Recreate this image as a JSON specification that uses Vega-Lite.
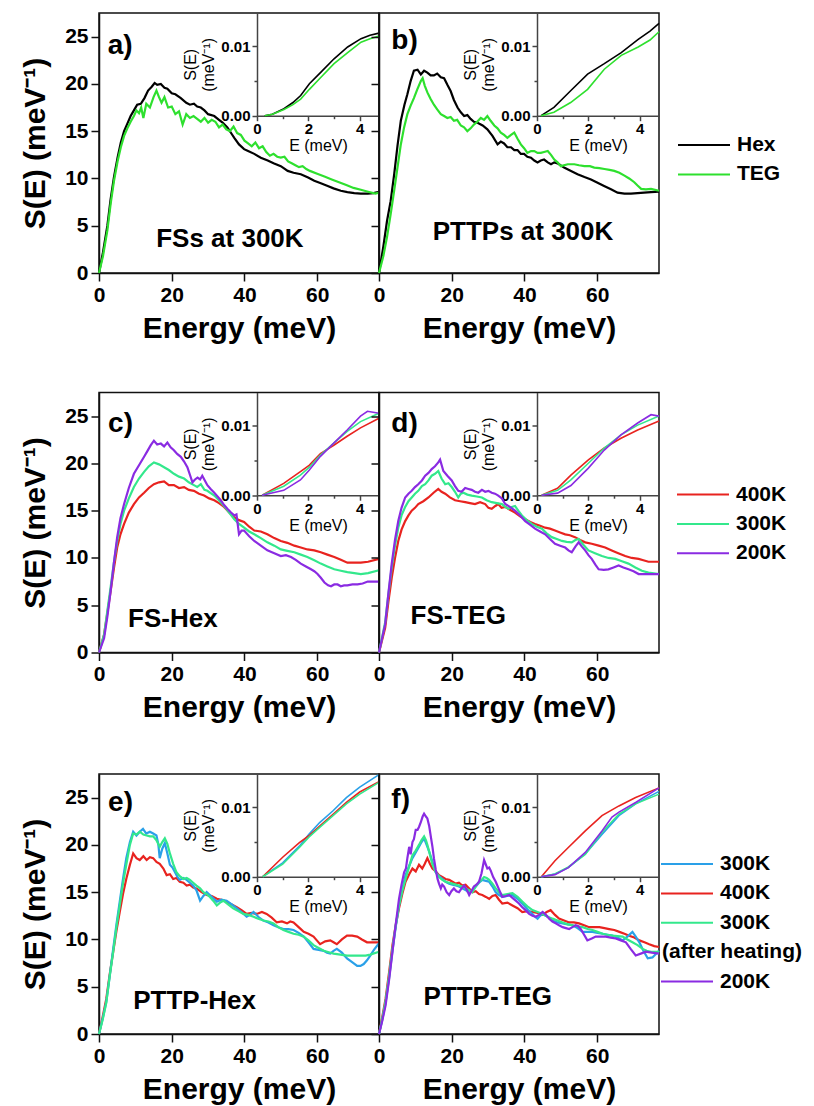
{
"$schema": "https://vega.github.io/schema/vega-lite/v6.json",
"padding": {"left": 19, "top": 12, "right": 0, "bottom": 0},
"config": {
  "font": "Liberation Sans",
  "view": {"stroke": "#111", "strokeWidth": 1.5},
  "axis": {"labelFont": "Liberation Sans", "labelFontWeight": "bold", "labelFontSize": 21, "labelColor": "#000", "titleFont": "Liberation Sans", "titleFontSize": 30, "titleFontWeight": "bold", "titleColor": "#000", "domainColor": "#111", "domainWidth": 1.5, "tickColor": "#111", "tickWidth": 1.5, "grid": false, "labelPadding": 3, "labelOverlap": false, "labelFlush": false},
  "legend": {"labelFont": "Liberation Sans", "labelFontSize": 21, "labelFontWeight": "bold", "labelColor": "#000", "symbolType": "M-2,0H2", "symbolSize": 676, "symbolStrokeWidth": 2, "labelOffset": 19, "rowPadding": 5.4, "padding": 0, "titlePadding": 0},
  "text": {"font": "Liberation Sans", "fontWeight": "bold", "color": "#000"}
},
"datasets": {
"main": [
{"p":"a","s":"Hex","x":0,"y":0},{"p":"a","s":"Hex","x":1.1,"y":2.2},{"p":"a","s":"Hex","x":2.3,"y":5},{"p":"a","s":"Hex","x":3.2,"y":7.8},{"p":"a","s":"Hex","x":4.1,"y":10.1},{"p":"a","s":"Hex","x":5.1,"y":12.2},{"p":"a","s":"Hex","x":6,"y":13.8},{"p":"a","s":"Hex","x":6.9,"y":15},{"p":"a","s":"Hex","x":7.8,"y":15.8},{"p":"a","s":"Hex","x":8.7,"y":16.6},{"p":"a","s":"Hex","x":9.6,"y":17.2},{"p":"a","s":"Hex","x":10.5,"y":17.8},{"p":"a","s":"Hex","x":11.5,"y":17.9},{"p":"a","s":"Hex","x":12.5,"y":18.5},{"p":"a","s":"Hex","x":13.5,"y":19.3},{"p":"a","s":"Hex","x":14.5,"y":19.7},{"p":"a","s":"Hex","x":15.3,"y":20.1},{"p":"a","s":"Hex","x":16,"y":19.9},{"p":"a","s":"Hex","x":17,"y":20},{"p":"a","s":"Hex","x":18,"y":19.6},{"p":"a","s":"Hex","x":18.8,"y":19.5},{"p":"a","s":"Hex","x":20,"y":19},{"p":"a","s":"Hex","x":21,"y":18.9},{"p":"a","s":"Hex","x":22.5,"y":18.5},{"p":"a","s":"Hex","x":24,"y":18},{"p":"a","s":"Hex","x":25,"y":17.8},{"p":"a","s":"Hex","x":26.1,"y":17.9},{"p":"a","s":"Hex","x":27,"y":17.6},{"p":"a","s":"Hex","x":28,"y":17.5},{"p":"a","s":"Hex","x":29,"y":17.2},{"p":"a","s":"Hex","x":30,"y":16.8},{"p":"a","s":"Hex","x":31.7,"y":16.6},{"p":"a","s":"Hex","x":33,"y":16.2},{"p":"a","s":"Hex","x":34,"y":15.9},{"p":"a","s":"Hex","x":35.3,"y":15.4},{"p":"a","s":"Hex","x":36.5,"y":14.7},{"p":"a","s":"Hex","x":37.2,"y":14.3},{"p":"a","s":"Hex","x":38.5,"y":13.6},{"p":"a","s":"Hex","x":39.9,"y":13.1},{"p":"a","s":"Hex","x":41,"y":12.9},{"p":"a","s":"Hex","x":42.7,"y":12.6},{"p":"a","s":"Hex","x":44.5,"y":12.2},{"p":"a","s":"Hex","x":46.4,"y":11.9},{"p":"a","s":"Hex","x":48,"y":11.6},{"p":"a","s":"Hex","x":50,"y":11.3},{"p":"a","s":"Hex","x":51.9,"y":10.8},{"p":"a","s":"Hex","x":53.5,"y":10.6},{"p":"a","s":"Hex","x":55.5,"y":10.45},{"p":"a","s":"Hex","x":57.5,"y":10.1},{"p":"a","s":"Hex","x":59.2,"y":9.75},{"p":"a","s":"Hex","x":61,"y":9.5},{"p":"a","s":"Hex","x":62.9,"y":9.2},{"p":"a","s":"Hex","x":64.5,"y":8.95},{"p":"a","s":"Hex","x":66.5,"y":8.7},{"p":"a","s":"Hex","x":68.3,"y":8.55},{"p":"a","s":"Hex","x":70.2,"y":8.45},{"p":"a","s":"Hex","x":72,"y":8.4},{"p":"a","s":"Hex","x":73.9,"y":8.4},{"p":"a","s":"Hex","x":75.5,"y":8.45},{"p":"a","s":"Hex","x":77,"y":8.6},
{"p":"a","s":"TEG","x":0,"y":0},{"p":"a","s":"TEG","x":1.1,"y":1.8},{"p":"a","s":"TEG","x":2.3,"y":4.5},{"p":"a","s":"TEG","x":3.2,"y":7.3},{"p":"a","s":"TEG","x":4.1,"y":9.7},{"p":"a","s":"TEG","x":5.1,"y":11.8},{"p":"a","s":"TEG","x":6,"y":13.3},{"p":"a","s":"TEG","x":6.9,"y":14.5},{"p":"a","s":"TEG","x":7.8,"y":15.3},{"p":"a","s":"TEG","x":8.7,"y":16},{"p":"a","s":"TEG","x":9.6,"y":16.6},{"p":"a","s":"TEG","x":10.3,"y":17.2},{"p":"a","s":"TEG","x":11,"y":16.9},{"p":"a","s":"TEG","x":11.6,"y":17.5},{"p":"a","s":"TEG","x":12.2,"y":16.4},{"p":"a","s":"TEG","x":13,"y":17.9},{"p":"a","s":"TEG","x":14,"y":17.5},{"p":"a","s":"TEG","x":15,"y":18.6},{"p":"a","s":"TEG","x":15.8,"y":19.3},{"p":"a","s":"TEG","x":16.5,"y":18.6},{"p":"a","s":"TEG","x":17.2,"y":18},{"p":"a","s":"TEG","x":18,"y":18.6},{"p":"a","s":"TEG","x":19,"y":17.5},{"p":"a","s":"TEG","x":20,"y":17.6},{"p":"a","s":"TEG","x":21,"y":16.8},{"p":"a","s":"TEG","x":22,"y":17.1},{"p":"a","s":"TEG","x":23,"y":15.7},{"p":"a","s":"TEG","x":24,"y":16.8},{"p":"a","s":"TEG","x":25,"y":16.4},{"p":"a","s":"TEG","x":26,"y":16.6},{"p":"a","s":"TEG","x":27,"y":16.3},{"p":"a","s":"TEG","x":28,"y":16},{"p":"a","s":"TEG","x":29,"y":16.4},{"p":"a","s":"TEG","x":30,"y":15.9},{"p":"a","s":"TEG","x":31,"y":16.2},{"p":"a","s":"TEG","x":32,"y":16},{"p":"a","s":"TEG","x":33,"y":15.4},{"p":"a","s":"TEG","x":34,"y":15.7},{"p":"a","s":"TEG","x":35,"y":15.2},{"p":"a","s":"TEG","x":36,"y":15},{"p":"a","s":"TEG","x":37,"y":15.5},{"p":"a","s":"TEG","x":38,"y":14.8},{"p":"a","s":"TEG","x":39,"y":14.6},{"p":"a","s":"TEG","x":40,"y":14},{"p":"a","s":"TEG","x":41,"y":13.7},{"p":"a","s":"TEG","x":42,"y":13.4},{"p":"a","s":"TEG","x":43,"y":13.8},{"p":"a","s":"TEG","x":44,"y":13.2},{"p":"a","s":"TEG","x":45,"y":13.4},{"p":"a","s":"TEG","x":46,"y":12.8},{"p":"a","s":"TEG","x":47,"y":12.4},{"p":"a","s":"TEG","x":48,"y":12.6},{"p":"a","s":"TEG","x":49,"y":12.3},{"p":"a","s":"TEG","x":50,"y":12.2},{"p":"a","s":"TEG","x":51,"y":12.3},{"p":"a","s":"TEG","x":52,"y":11.8},{"p":"a","s":"TEG","x":53,"y":11.6},{"p":"a","s":"TEG","x":54,"y":11.4},{"p":"a","s":"TEG","x":55,"y":11.2},{"p":"a","s":"TEG","x":56,"y":11.3},{"p":"a","s":"TEG","x":57,"y":11},{"p":"a","s":"TEG","x":58,"y":10.8},{"p":"a","s":"TEG","x":60,"y":10.5},{"p":"a","s":"TEG","x":62,"y":10.2},{"p":"a","s":"TEG","x":64,"y":9.9},{"p":"a","s":"TEG","x":66,"y":9.6},{"p":"a","s":"TEG","x":68,"y":9.3},{"p":"a","s":"TEG","x":70,"y":9},{"p":"a","s":"TEG","x":72,"y":8.8},{"p":"a","s":"TEG","x":74,"y":8.6},{"p":"a","s":"TEG","x":76,"y":8.4},{"p":"a","s":"TEG","x":77,"y":8.5},
{"p":"b","s":"Hex","x":0,"y":0},{"p":"b","s":"Hex","x":1.2,"y":2.8},{"p":"b","s":"Hex","x":2.2,"y":5.5},{"p":"b","s":"Hex","x":3.2,"y":7.6},{"p":"b","s":"Hex","x":4.2,"y":10.5},{"p":"b","s":"Hex","x":5.1,"y":13.5},{"p":"b","s":"Hex","x":6,"y":16.1},{"p":"b","s":"Hex","x":7,"y":17.8},{"p":"b","s":"Hex","x":7.8,"y":18.9},{"p":"b","s":"Hex","x":8.7,"y":20.3},{"p":"b","s":"Hex","x":9.6,"y":21.4},{"p":"b","s":"Hex","x":10.6,"y":21.5},{"p":"b","s":"Hex","x":11.5,"y":21},{"p":"b","s":"Hex","x":12.4,"y":21.4},{"p":"b","s":"Hex","x":13.3,"y":21.2},{"p":"b","s":"Hex","x":14.2,"y":20.9},{"p":"b","s":"Hex","x":15.1,"y":20.9},{"p":"b","s":"Hex","x":16,"y":21.1},{"p":"b","s":"Hex","x":17,"y":20.7},{"p":"b","s":"Hex","x":17.9,"y":20.6},{"p":"b","s":"Hex","x":18.8,"y":19.9},{"p":"b","s":"Hex","x":19.7,"y":19.25},{"p":"b","s":"Hex","x":20.6,"y":18.3},{"p":"b","s":"Hex","x":21.6,"y":17.5},{"p":"b","s":"Hex","x":22.5,"y":17},{"p":"b","s":"Hex","x":23.4,"y":16.6},{"p":"b","s":"Hex","x":24.3,"y":16.7},{"p":"b","s":"Hex","x":25.2,"y":16.3},{"p":"b","s":"Hex","x":26.1,"y":16},{"p":"b","s":"Hex","x":27.1,"y":15.9},{"p":"b","s":"Hex","x":28.5,"y":15.6},{"p":"b","s":"Hex","x":29.8,"y":15.2},{"p":"b","s":"Hex","x":31.2,"y":14.5},{"p":"b","s":"Hex","x":32.6,"y":13.6},{"p":"b","s":"Hex","x":33.5,"y":13.9},{"p":"b","s":"Hex","x":34.4,"y":13.7},{"p":"b","s":"Hex","x":35.3,"y":13.3},{"p":"b","s":"Hex","x":36.3,"y":13.3},{"p":"b","s":"Hex","x":37.2,"y":13},{"p":"b","s":"Hex","x":38.1,"y":13},{"p":"b","s":"Hex","x":39,"y":12.6},{"p":"b","s":"Hex","x":39.9,"y":12.6},{"p":"b","s":"Hex","x":40.8,"y":12.3},{"p":"b","s":"Hex","x":41.8,"y":12.2},{"p":"b","s":"Hex","x":42.7,"y":11.9},{"p":"b","s":"Hex","x":43.6,"y":11.7},{"p":"b","s":"Hex","x":44.5,"y":11.9},{"p":"b","s":"Hex","x":45.4,"y":12},{"p":"b","s":"Hex","x":46.4,"y":11.7},{"p":"b","s":"Hex","x":47.3,"y":11.5},{"p":"b","s":"Hex","x":48.2,"y":11.7},{"p":"b","s":"Hex","x":49.1,"y":11.6},{"p":"b","s":"Hex","x":50.9,"y":11.15},{"p":"b","s":"Hex","x":52.8,"y":10.8},{"p":"b","s":"Hex","x":54.6,"y":10.45},{"p":"b","s":"Hex","x":56.5,"y":10.15},{"p":"b","s":"Hex","x":58.3,"y":9.9},{"p":"b","s":"Hex","x":60.1,"y":9.55},{"p":"b","s":"Hex","x":61.9,"y":9.2},{"p":"b","s":"Hex","x":63.8,"y":8.85},{"p":"b","s":"Hex","x":65.6,"y":8.5},{"p":"b","s":"Hex","x":67.5,"y":8.4},{"p":"b","s":"Hex","x":69.3,"y":8.4},{"p":"b","s":"Hex","x":71.1,"y":8.45},{"p":"b","s":"Hex","x":72.9,"y":8.5},{"p":"b","s":"Hex","x":74.8,"y":8.55},{"p":"b","s":"Hex","x":77,"y":8.6},
{"p":"b","s":"TEG","x":0,"y":0},{"p":"b","s":"TEG","x":1.2,"y":1.8},{"p":"b","s":"TEG","x":2.2,"y":3.8},{"p":"b","s":"TEG","x":3.2,"y":6.2},{"p":"b","s":"TEG","x":4.2,"y":8.8},{"p":"b","s":"TEG","x":5.1,"y":11.2},{"p":"b","s":"TEG","x":6,"y":13.6},{"p":"b","s":"TEG","x":6.9,"y":15.4},{"p":"b","s":"TEG","x":7.8,"y":16.8},{"p":"b","s":"TEG","x":8.7,"y":17.7},{"p":"b","s":"TEG","x":9.6,"y":18.5},{"p":"b","s":"TEG","x":10.5,"y":19.4},{"p":"b","s":"TEG","x":11.5,"y":20.3},{"p":"b","s":"TEG","x":12,"y":20.6},{"p":"b","s":"TEG","x":12.6,"y":19.8},{"p":"b","s":"TEG","x":13.3,"y":19.1},{"p":"b","s":"TEG","x":14.2,"y":18.4},{"p":"b","s":"TEG","x":15.1,"y":17.8},{"p":"b","s":"TEG","x":16,"y":17.3},{"p":"b","s":"TEG","x":17,"y":16.8},{"p":"b","s":"TEG","x":17.9,"y":16.6},{"p":"b","s":"TEG","x":18.8,"y":16.4},{"p":"b","s":"TEG","x":19.7,"y":16.5},{"p":"b","s":"TEG","x":20.6,"y":16.1},{"p":"b","s":"TEG","x":21.5,"y":16.2},{"p":"b","s":"TEG","x":22.5,"y":15.6},{"p":"b","s":"TEG","x":23.4,"y":15.4},{"p":"b","s":"TEG","x":24.3,"y":15},{"p":"b","s":"TEG","x":25.2,"y":15.3},{"p":"b","s":"TEG","x":26.1,"y":15.7},{"p":"b","s":"TEG","x":27,"y":16},{"p":"b","s":"TEG","x":28,"y":16.4},{"p":"b","s":"TEG","x":28.9,"y":16.2},{"p":"b","s":"TEG","x":29.8,"y":16.6},{"p":"b","s":"TEG","x":30.7,"y":16.1},{"p":"b","s":"TEG","x":31.7,"y":15.6},{"p":"b","s":"TEG","x":32.6,"y":15.3},{"p":"b","s":"TEG","x":33.5,"y":14.85},{"p":"b","s":"TEG","x":34.4,"y":14.6},{"p":"b","s":"TEG","x":35.3,"y":14.3},{"p":"b","s":"TEG","x":36.3,"y":14.6},{"p":"b","s":"TEG","x":37.2,"y":14.85},{"p":"b","s":"TEG","x":38.1,"y":14.2},{"p":"b","s":"TEG","x":39,"y":13.6},{"p":"b","s":"TEG","x":39.9,"y":13.2},{"p":"b","s":"TEG","x":40.8,"y":12.7},{"p":"b","s":"TEG","x":41.8,"y":12.9},{"p":"b","s":"TEG","x":42.7,"y":12.9},{"p":"b","s":"TEG","x":43.6,"y":12.7},{"p":"b","s":"TEG","x":44.5,"y":12.7},{"p":"b","s":"TEG","x":45.4,"y":12.8},{"p":"b","s":"TEG","x":46.4,"y":12.9},{"p":"b","s":"TEG","x":47.3,"y":12.5},{"p":"b","s":"TEG","x":48.2,"y":12},{"p":"b","s":"TEG","x":49.1,"y":11.7},{"p":"b","s":"TEG","x":50,"y":11.3},{"p":"b","s":"TEG","x":51.9,"y":11.5},{"p":"b","s":"TEG","x":53.7,"y":11.5},{"p":"b","s":"TEG","x":55,"y":11.4},{"p":"b","s":"TEG","x":56.5,"y":11.3},{"p":"b","s":"TEG","x":58,"y":11.3},{"p":"b","s":"TEG","x":59.2,"y":11.15},{"p":"b","s":"TEG","x":60.6,"y":11.1},{"p":"b","s":"TEG","x":62,"y":11},{"p":"b","s":"TEG","x":63.4,"y":10.9},{"p":"b","s":"TEG","x":64.7,"y":10.8},{"p":"b","s":"TEG","x":66.1,"y":10.6},{"p":"b","s":"TEG","x":67.5,"y":10.3},{"p":"b","s":"TEG","x":68.8,"y":10},{"p":"b","s":"TEG","x":70.2,"y":9.6},{"p":"b","s":"TEG","x":71.1,"y":9.25},{"p":"b","s":"TEG","x":72.1,"y":8.9},{"p":"b","s":"TEG","x":73.4,"y":8.85},{"p":"b","s":"TEG","x":74.8,"y":8.9},{"p":"b","s":"TEG","x":77,"y":8.7},
{"p":"c","s":"400K","x":0,"y":0},{"p":"c","s":"400K","x":1.4,"y":1.9},{"p":"c","s":"400K","x":2.3,"y":4.2},{"p":"c","s":"400K","x":3.2,"y":6.5},{"p":"c","s":"400K","x":4.1,"y":8.9},{"p":"c","s":"400K","x":5,"y":11.1},{"p":"c","s":"400K","x":5.9,"y":12.5},{"p":"c","s":"400K","x":6.9,"y":13.6},{"p":"c","s":"400K","x":8.2,"y":14.8},{"p":"c","s":"400K","x":9.6,"y":15.7},{"p":"c","s":"400K","x":11,"y":16.4},{"p":"c","s":"400K","x":12.4,"y":16.9},{"p":"c","s":"400K","x":13.7,"y":17.4},{"p":"c","s":"400K","x":15.1,"y":17.8},{"p":"c","s":"400K","x":16.5,"y":18},{"p":"c","s":"400K","x":17.9,"y":18.1},{"p":"c","s":"400K","x":19.2,"y":17.7},{"p":"c","s":"400K","x":20.6,"y":17.7},{"p":"c","s":"400K","x":22,"y":17.4},{"p":"c","s":"400K","x":23.4,"y":17.5},{"p":"c","s":"400K","x":24.7,"y":17.2},{"p":"c","s":"400K","x":26.1,"y":17.1},{"p":"c","s":"400K","x":27.5,"y":16.8},{"p":"c","s":"400K","x":28.9,"y":16.6},{"p":"c","s":"400K","x":30.3,"y":16.3},{"p":"c","s":"400K","x":31.7,"y":16.1},{"p":"c","s":"400K","x":33,"y":15.8},{"p":"c","s":"400K","x":34.4,"y":15.4},{"p":"c","s":"400K","x":35.8,"y":14.8},{"p":"c","s":"400K","x":37.2,"y":14.3},{"p":"c","s":"400K","x":38.5,"y":14},{"p":"c","s":"400K","x":39.9,"y":13.8},{"p":"c","s":"400K","x":41.3,"y":13.3},{"p":"c","s":"400K","x":42.7,"y":12.9},{"p":"c","s":"400K","x":44.5,"y":12.8},{"p":"c","s":"400K","x":46.3,"y":12.5},{"p":"c","s":"400K","x":48.2,"y":12.1},{"p":"c","s":"400K","x":50,"y":11.8},{"p":"c","s":"400K","x":51.8,"y":11.6},{"p":"c","s":"400K","x":53.7,"y":11.3},{"p":"c","s":"400K","x":55.5,"y":11.1},{"p":"c","s":"400K","x":57.3,"y":10.9},{"p":"c","s":"400K","x":59.2,"y":10.8},{"p":"c","s":"400K","x":61,"y":10.6},{"p":"c","s":"400K","x":62.8,"y":10.35},{"p":"c","s":"400K","x":64.7,"y":10.1},{"p":"c","s":"400K","x":66.5,"y":9.8},{"p":"c","s":"400K","x":68.3,"y":9.5},{"p":"c","s":"400K","x":70.2,"y":9.5},{"p":"c","s":"400K","x":72,"y":9.5},{"p":"c","s":"400K","x":74,"y":9.6},{"p":"c","s":"400K","x":77,"y":9.9},
{"p":"c","s":"300K","x":0,"y":0},{"p":"c","s":"300K","x":1.4,"y":1.9},{"p":"c","s":"300K","x":2.3,"y":4.4},{"p":"c","s":"300K","x":3.2,"y":6.9},{"p":"c","s":"300K","x":4.1,"y":9.5},{"p":"c","s":"300K","x":5,"y":11.8},{"p":"c","s":"300K","x":5.9,"y":13.6},{"p":"c","s":"300K","x":6.9,"y":15},{"p":"c","s":"300K","x":8.2,"y":16.3},{"p":"c","s":"300K","x":9.6,"y":17.5},{"p":"c","s":"300K","x":11,"y":18.4},{"p":"c","s":"300K","x":12.4,"y":19.1},{"p":"c","s":"300K","x":13.7,"y":19.7},{"p":"c","s":"300K","x":15.1,"y":20.1},{"p":"c","s":"300K","x":16.5,"y":19.9},{"p":"c","s":"300K","x":17.9,"y":19.6},{"p":"c","s":"300K","x":19.2,"y":19.3},{"p":"c","s":"300K","x":20.6,"y":18.9},{"p":"c","s":"300K","x":22,"y":18.6},{"p":"c","s":"300K","x":23.4,"y":18.4},{"p":"c","s":"300K","x":24.7,"y":18},{"p":"c","s":"300K","x":26.1,"y":17.7},{"p":"c","s":"300K","x":27,"y":17.5},{"p":"c","s":"300K","x":28,"y":17.8},{"p":"c","s":"300K","x":29,"y":17.2},{"p":"c","s":"300K","x":29.8,"y":17.1},{"p":"c","s":"300K","x":31.7,"y":16.6},{"p":"c","s":"300K","x":33,"y":16.1},{"p":"c","s":"300K","x":34.4,"y":15.5},{"p":"c","s":"300K","x":35.8,"y":14.8},{"p":"c","s":"300K","x":37.2,"y":14.1},{"p":"c","s":"300K","x":38.5,"y":13.6},{"p":"c","s":"300K","x":39.9,"y":13.2},{"p":"c","s":"300K","x":41.3,"y":12.8},{"p":"c","s":"300K","x":42.7,"y":12.5},{"p":"c","s":"300K","x":44.5,"y":12.1},{"p":"c","s":"300K","x":46.3,"y":11.65},{"p":"c","s":"300K","x":48.2,"y":11.3},{"p":"c","s":"300K","x":50,"y":10.9},{"p":"c","s":"300K","x":51.8,"y":10.75},{"p":"c","s":"300K","x":53.7,"y":10.6},{"p":"c","s":"300K","x":55.5,"y":10.35},{"p":"c","s":"300K","x":57.3,"y":10.1},{"p":"c","s":"300K","x":59.2,"y":9.75},{"p":"c","s":"300K","x":61,"y":9.4},{"p":"c","s":"300K","x":62.8,"y":9.1},{"p":"c","s":"300K","x":64.7,"y":8.8},{"p":"c","s":"300K","x":66.5,"y":8.65},{"p":"c","s":"300K","x":68.3,"y":8.5},{"p":"c","s":"300K","x":70.2,"y":8.4},{"p":"c","s":"300K","x":72,"y":8.3},{"p":"c","s":"300K","x":74,"y":8.4},{"p":"c","s":"300K","x":77,"y":8.7},
{"p":"c","s":"200K","x":0,"y":0},{"p":"c","s":"200K","x":1.4,"y":1.5},{"p":"c","s":"200K","x":2.3,"y":3.8},{"p":"c","s":"200K","x":3.2,"y":6.5},{"p":"c","s":"200K","x":4.1,"y":9.5},{"p":"c","s":"200K","x":5,"y":12.2},{"p":"c","s":"200K","x":5.9,"y":14.2},{"p":"c","s":"200K","x":6.9,"y":15.7},{"p":"c","s":"200K","x":8.2,"y":17.4},{"p":"c","s":"200K","x":9.6,"y":18.9},{"p":"c","s":"200K","x":11,"y":19.8},{"p":"c","s":"200K","x":12.4,"y":20.7},{"p":"c","s":"200K","x":13.3,"y":21.3},{"p":"c","s":"200K","x":14.2,"y":21.9},{"p":"c","s":"200K","x":15.1,"y":22.4},{"p":"c","s":"200K","x":16,"y":22},{"p":"c","s":"200K","x":17,"y":22.1},{"p":"c","s":"200K","x":17.9,"y":21.8},{"p":"c","s":"200K","x":18.8,"y":22.2},{"p":"c","s":"200K","x":19.7,"y":21.7},{"p":"c","s":"200K","x":20.6,"y":21.4},{"p":"c","s":"200K","x":21.5,"y":21},{"p":"c","s":"200K","x":22.5,"y":20.7},{"p":"c","s":"200K","x":23.4,"y":20.2},{"p":"c","s":"200K","x":24.3,"y":19.6},{"p":"c","s":"200K","x":25,"y":18.8},{"p":"c","s":"200K","x":25.7,"y":18},{"p":"c","s":"200K","x":26.4,"y":18.3},{"p":"c","s":"200K","x":27.1,"y":18.5},{"p":"c","s":"200K","x":27.8,"y":18.3},{"p":"c","s":"200K","x":28.4,"y":18.7},{"p":"c","s":"200K","x":29.1,"y":18.2},{"p":"c","s":"200K","x":29.8,"y":17.7},{"p":"c","s":"200K","x":30.7,"y":17.3},{"p":"c","s":"200K","x":31.7,"y":16.9},{"p":"c","s":"200K","x":32.6,"y":16.5},{"p":"c","s":"200K","x":33.5,"y":16.1},{"p":"c","s":"200K","x":34.4,"y":15.6},{"p":"c","s":"200K","x":35.3,"y":15.2},{"p":"c","s":"200K","x":36.3,"y":14.8},{"p":"c","s":"200K","x":37.2,"y":14.5},{"p":"c","s":"200K","x":37.8,"y":14.6},{"p":"c","s":"200K","x":38.5,"y":12.5},{"p":"c","s":"200K","x":39.2,"y":12.9},{"p":"c","s":"200K","x":39.9,"y":12.9},{"p":"c","s":"200K","x":41.3,"y":12.3},{"p":"c","s":"200K","x":42.7,"y":11.8},{"p":"c","s":"200K","x":44.5,"y":11.3},{"p":"c","s":"200K","x":46.3,"y":10.8},{"p":"c","s":"200K","x":48.2,"y":10.5},{"p":"c","s":"200K","x":50,"y":10.2},{"p":"c","s":"200K","x":51.4,"y":10.3},{"p":"c","s":"200K","x":52.8,"y":10.1},{"p":"c","s":"200K","x":54.1,"y":9.8},{"p":"c","s":"200K","x":55.5,"y":9.4},{"p":"c","s":"200K","x":56.9,"y":9.1},{"p":"c","s":"200K","x":58.3,"y":8.8},{"p":"c","s":"200K","x":59.2,"y":8.6},{"p":"c","s":"200K","x":60.1,"y":8.3},{"p":"c","s":"200K","x":61,"y":7.9},{"p":"c","s":"200K","x":62,"y":7.4},{"p":"c","s":"200K","x":63,"y":7.1},{"p":"c","s":"200K","x":63.8,"y":7},{"p":"c","s":"200K","x":64.7,"y":7.2},{"p":"c","s":"200K","x":65.6,"y":7.2},{"p":"c","s":"200K","x":66.5,"y":7},{"p":"c","s":"200K","x":67.4,"y":7.1},{"p":"c","s":"200K","x":68.3,"y":7.1},{"p":"c","s":"200K","x":69.7,"y":7.2},{"p":"c","s":"200K","x":71.1,"y":7.2},{"p":"c","s":"200K","x":72.5,"y":7.3},{"p":"c","s":"200K","x":73.9,"y":7.5},{"p":"c","s":"200K","x":75.3,"y":7.5},{"p":"c","s":"200K","x":77,"y":7.5},
{"p":"d","s":"400K","x":0,"y":0},{"p":"d","s":"400K","x":1.7,"y":2.6},{"p":"d","s":"400K","x":2.6,"y":5.4},{"p":"d","s":"400K","x":3.5,"y":7.9},{"p":"d","s":"400K","x":4.4,"y":10},{"p":"d","s":"400K","x":5.3,"y":11.8},{"p":"d","s":"400K","x":6.2,"y":13},{"p":"d","s":"400K","x":7.2,"y":13.9},{"p":"d","s":"400K","x":8.1,"y":14.5},{"p":"d","s":"400K","x":9,"y":15},{"p":"d","s":"400K","x":9.9,"y":15.3},{"p":"d","s":"400K","x":10.8,"y":15.7},{"p":"d","s":"400K","x":12.2,"y":16},{"p":"d","s":"400K","x":13.6,"y":16.4},{"p":"d","s":"400K","x":15,"y":16.9},{"p":"d","s":"400K","x":16.3,"y":17.3},{"p":"d","s":"400K","x":17.2,"y":17},{"p":"d","s":"400K","x":18.2,"y":16.8},{"p":"d","s":"400K","x":19.5,"y":16.4},{"p":"d","s":"400K","x":20.9,"y":16.1},{"p":"d","s":"400K","x":22.3,"y":16},{"p":"d","s":"400K","x":23.7,"y":15.9},{"p":"d","s":"400K","x":25,"y":15.8},{"p":"d","s":"400K","x":26.4,"y":15.7},{"p":"d","s":"400K","x":27.8,"y":15.9},{"p":"d","s":"400K","x":29.2,"y":15.7},{"p":"d","s":"400K","x":30.1,"y":15.3},{"p":"d","s":"400K","x":31,"y":15.2},{"p":"d","s":"400K","x":32,"y":15.5},{"p":"d","s":"400K","x":32.8,"y":15.7},{"p":"d","s":"400K","x":33.7,"y":15.3},{"p":"d","s":"400K","x":34.7,"y":15.4},{"p":"d","s":"400K","x":36,"y":15.1},{"p":"d","s":"400K","x":37.4,"y":14.8},{"p":"d","s":"400K","x":38.8,"y":14.4},{"p":"d","s":"400K","x":40.2,"y":14.1},{"p":"d","s":"400K","x":41.6,"y":13.8},{"p":"d","s":"400K","x":42.9,"y":13.6},{"p":"d","s":"400K","x":44.3,"y":13.4},{"p":"d","s":"400K","x":45.7,"y":13.2},{"p":"d","s":"400K","x":47,"y":13.1},{"p":"d","s":"400K","x":48.4,"y":12.9},{"p":"d","s":"400K","x":49.8,"y":12.7},{"p":"d","s":"400K","x":51.2,"y":12.5},{"p":"d","s":"400K","x":52.5,"y":12.4},{"p":"d","s":"400K","x":53.9,"y":12.2},{"p":"d","s":"400K","x":55.3,"y":11.9},{"p":"d","s":"400K","x":56.7,"y":11.65},{"p":"d","s":"400K","x":58.5,"y":11.5},{"p":"d","s":"400K","x":60.4,"y":11.3},{"p":"d","s":"400K","x":62.2,"y":11.1},{"p":"d","s":"400K","x":64,"y":10.8},{"p":"d","s":"400K","x":65.8,"y":10.5},{"p":"d","s":"400K","x":67.7,"y":10.2},{"p":"d","s":"400K","x":69.5,"y":10},{"p":"d","s":"400K","x":71.4,"y":9.9},{"p":"d","s":"400K","x":72.7,"y":9.75},{"p":"d","s":"400K","x":74.1,"y":9.6},{"p":"d","s":"400K","x":77,"y":9.6},
{"p":"d","s":"300K","x":0,"y":0},{"p":"d","s":"300K","x":1.7,"y":3.2},{"p":"d","s":"300K","x":2.6,"y":6.2},{"p":"d","s":"300K","x":3.5,"y":9},{"p":"d","s":"300K","x":4.4,"y":11.3},{"p":"d","s":"300K","x":5.3,"y":13.2},{"p":"d","s":"300K","x":6.2,"y":14.5},{"p":"d","s":"300K","x":7.2,"y":15.4},{"p":"d","s":"300K","x":8.1,"y":16},{"p":"d","s":"300K","x":9,"y":16.4},{"p":"d","s":"300K","x":9.9,"y":16.8},{"p":"d","s":"300K","x":10.8,"y":17.1},{"p":"d","s":"300K","x":11.8,"y":17.6},{"p":"d","s":"300K","x":12.7,"y":17.8},{"p":"d","s":"300K","x":13.6,"y":18.2},{"p":"d","s":"300K","x":14.5,"y":18.7},{"p":"d","s":"300K","x":15.4,"y":18.9},{"p":"d","s":"300K","x":16.3,"y":19.2},{"p":"d","s":"300K","x":17.2,"y":18.4},{"p":"d","s":"300K","x":18.2,"y":17.8},{"p":"d","s":"300K","x":19.1,"y":17.9},{"p":"d","s":"300K","x":20,"y":17.5},{"p":"d","s":"300K","x":20.9,"y":17},{"p":"d","s":"300K","x":21.8,"y":16.4},{"p":"d","s":"300K","x":22.5,"y":16.8},{"p":"d","s":"300K","x":23.2,"y":16.9},{"p":"d","s":"300K","x":24.3,"y":16.7},{"p":"d","s":"300K","x":25.5,"y":16.6},{"p":"d","s":"300K","x":26.9,"y":16.5},{"p":"d","s":"300K","x":28.3,"y":16.4},{"p":"d","s":"300K","x":29.6,"y":16.1},{"p":"d","s":"300K","x":31,"y":15.9},{"p":"d","s":"300K","x":32.4,"y":15.8},{"p":"d","s":"300K","x":33.8,"y":15.7},{"p":"d","s":"300K","x":34.7,"y":15.4},{"p":"d","s":"300K","x":35.6,"y":15.2},{"p":"d","s":"300K","x":36.5,"y":15.4},{"p":"d","s":"300K","x":37.4,"y":15.5},{"p":"d","s":"300K","x":38.3,"y":15},{"p":"d","s":"300K","x":39.3,"y":14.5},{"p":"d","s":"300K","x":40.6,"y":14},{"p":"d","s":"300K","x":42,"y":13.6},{"p":"d","s":"300K","x":43.4,"y":13.3},{"p":"d","s":"300K","x":44.8,"y":13.1},{"p":"d","s":"300K","x":46.1,"y":12.6},{"p":"d","s":"300K","x":47.5,"y":12.2},{"p":"d","s":"300K","x":48.9,"y":12},{"p":"d","s":"300K","x":50.3,"y":11.8},{"p":"d","s":"300K","x":51.6,"y":11.7},{"p":"d","s":"300K","x":53,"y":11.65},{"p":"d","s":"300K","x":54,"y":11.9},{"p":"d","s":"300K","x":54.9,"y":12},{"p":"d","s":"300K","x":56.2,"y":11.4},{"p":"d","s":"300K","x":57.6,"y":10.8},{"p":"d","s":"300K","x":59.4,"y":10.5},{"p":"d","s":"300K","x":61.3,"y":10.2},{"p":"d","s":"300K","x":63.1,"y":10},{"p":"d","s":"300K","x":65,"y":9.9},{"p":"d","s":"300K","x":66.8,"y":9.65},{"p":"d","s":"300K","x":68.6,"y":9.4},{"p":"d","s":"300K","x":70.5,"y":9},{"p":"d","s":"300K","x":72.3,"y":8.65},{"p":"d","s":"300K","x":74.1,"y":8.45},{"p":"d","s":"300K","x":77,"y":8.3},
{"p":"d","s":"200K","x":0,"y":0},{"p":"d","s":"200K","x":1.7,"y":3},{"p":"d","s":"200K","x":2.6,"y":6.3},{"p":"d","s":"200K","x":3.5,"y":9.4},{"p":"d","s":"200K","x":4.4,"y":11.9},{"p":"d","s":"200K","x":5.3,"y":13.9},{"p":"d","s":"200K","x":6.2,"y":15.3},{"p":"d","s":"200K","x":7.2,"y":16.4},{"p":"d","s":"200K","x":8.1,"y":16.8},{"p":"d","s":"200K","x":9,"y":17.1},{"p":"d","s":"200K","x":9.9,"y":17.5},{"p":"d","s":"200K","x":10.8,"y":17.8},{"p":"d","s":"200K","x":11.8,"y":18.2},{"p":"d","s":"200K","x":12.7,"y":18.7},{"p":"d","s":"200K","x":13.6,"y":19},{"p":"d","s":"200K","x":14.5,"y":19.4},{"p":"d","s":"200K","x":15.4,"y":19.7},{"p":"d","s":"200K","x":16.3,"y":20.1},{"p":"d","s":"200K","x":16.8,"y":20.4},{"p":"d","s":"200K","x":17.7,"y":19.2},{"p":"d","s":"200K","x":18.8,"y":18.7},{"p":"d","s":"200K","x":20,"y":18.2},{"p":"d","s":"200K","x":20.9,"y":17.6},{"p":"d","s":"200K","x":21.8,"y":17.1},{"p":"d","s":"200K","x":22.7,"y":17},{"p":"d","s":"200K","x":23.7,"y":17.4},{"p":"d","s":"200K","x":24.6,"y":17.3},{"p":"d","s":"200K","x":25.5,"y":17.2},{"p":"d","s":"200K","x":26.4,"y":17},{"p":"d","s":"200K","x":27.3,"y":16.9},{"p":"d","s":"200K","x":28.3,"y":17.2},{"p":"d","s":"200K","x":29.2,"y":17},{"p":"d","s":"200K","x":30.1,"y":17.1},{"p":"d","s":"200K","x":31,"y":16.9},{"p":"d","s":"200K","x":31.9,"y":16.8},{"p":"d","s":"200K","x":32.8,"y":16.6},{"p":"d","s":"200K","x":33.8,"y":16.3},{"p":"d","s":"200K","x":34.7,"y":15.7},{"p":"d","s":"200K","x":36,"y":15.4},{"p":"d","s":"200K","x":37.4,"y":15},{"p":"d","s":"200K","x":38.8,"y":14.5},{"p":"d","s":"200K","x":40.2,"y":13.9},{"p":"d","s":"200K","x":41.6,"y":13.5},{"p":"d","s":"200K","x":42.9,"y":13.1},{"p":"d","s":"200K","x":44.3,"y":12.8},{"p":"d","s":"200K","x":45.7,"y":12.5},{"p":"d","s":"200K","x":47,"y":12},{"p":"d","s":"200K","x":48.4,"y":11.5},{"p":"d","s":"200K","x":49.8,"y":11.3},{"p":"d","s":"200K","x":51.2,"y":11.1},{"p":"d","s":"200K","x":52.1,"y":10.8},{"p":"d","s":"200K","x":53,"y":10.6},{"p":"d","s":"200K","x":54,"y":11.2},{"p":"d","s":"200K","x":54.9,"y":11.65},{"p":"d","s":"200K","x":55.8,"y":11.2},{"p":"d","s":"200K","x":56.7,"y":10.8},{"p":"d","s":"200K","x":57.6,"y":10.3},{"p":"d","s":"200K","x":58.5,"y":9.9},{"p":"d","s":"200K","x":59.5,"y":9.3},{"p":"d","s":"200K","x":60.4,"y":8.8},{"p":"d","s":"200K","x":61.8,"y":8.75},{"p":"d","s":"200K","x":63.1,"y":8.8},{"p":"d","s":"200K","x":64.5,"y":9},{"p":"d","s":"200K","x":65.9,"y":9.2},{"p":"d","s":"200K","x":67.2,"y":9},{"p":"d","s":"200K","x":68.6,"y":8.8},{"p":"d","s":"200K","x":70,"y":8.6},{"p":"d","s":"200K","x":71.4,"y":8.3},{"p":"d","s":"200K","x":72.7,"y":8.3},{"p":"d","s":"200K","x":74.1,"y":8.3},{"p":"d","s":"200K","x":77,"y":8.3},
{"p":"e","s":"400K","x":0,"y":0},{"p":"e","s":"400K","x":1,"y":1.8},{"p":"e","s":"400K","x":2,"y":3.7},{"p":"e","s":"400K","x":2.9,"y":6.2},{"p":"e","s":"400K","x":3.9,"y":8.7},{"p":"e","s":"400K","x":4.8,"y":10.9},{"p":"e","s":"400K","x":5.7,"y":12.9},{"p":"e","s":"400K","x":6.6,"y":14.8},{"p":"e","s":"400K","x":7.5,"y":16.4},{"p":"e","s":"400K","x":8.5,"y":17.9},{"p":"e","s":"400K","x":9.4,"y":19.1},{"p":"e","s":"400K","x":10.3,"y":18.6},{"p":"e","s":"400K","x":11.2,"y":18.4},{"p":"e","s":"400K","x":12.2,"y":18.8},{"p":"e","s":"400K","x":13.1,"y":18.4},{"p":"e","s":"400K","x":14,"y":18.7},{"p":"e","s":"400K","x":14.9,"y":18.6},{"p":"e","s":"400K","x":15.8,"y":18.2},{"p":"e","s":"400K","x":16.7,"y":18},{"p":"e","s":"400K","x":17.7,"y":17.5},{"p":"e","s":"400K","x":18.6,"y":16.8},{"p":"e","s":"400K","x":19.5,"y":16.9},{"p":"e","s":"400K","x":20.4,"y":16.4},{"p":"e","s":"400K","x":21.3,"y":16.5},{"p":"e","s":"400K","x":22.2,"y":16.1},{"p":"e","s":"400K","x":23.2,"y":16},{"p":"e","s":"400K","x":24.1,"y":15.7},{"p":"e","s":"400K","x":25,"y":15.8},{"p":"e","s":"400K","x":25.9,"y":15.5},{"p":"e","s":"400K","x":26.8,"y":15.4},{"p":"e","s":"400K","x":28.2,"y":15},{"p":"e","s":"400K","x":29.6,"y":14.7},{"p":"e","s":"400K","x":31,"y":14.6},{"p":"e","s":"400K","x":32.4,"y":14.3},{"p":"e","s":"400K","x":33.7,"y":14.2},{"p":"e","s":"400K","x":35.1,"y":14},{"p":"e","s":"400K","x":36.5,"y":13.7},{"p":"e","s":"400K","x":37.9,"y":13.4},{"p":"e","s":"400K","x":39.2,"y":13.1},{"p":"e","s":"400K","x":40.6,"y":12.7},{"p":"e","s":"400K","x":42,"y":12.8},{"p":"e","s":"400K","x":43.4,"y":12.7},{"p":"e","s":"400K","x":44.8,"y":12.9},{"p":"e","s":"400K","x":46.1,"y":12.7},{"p":"e","s":"400K","x":47.5,"y":12.3},{"p":"e","s":"400K","x":48.9,"y":11.8},{"p":"e","s":"400K","x":50.3,"y":11.9},{"p":"e","s":"400K","x":51.7,"y":11.7},{"p":"e","s":"400K","x":52.6,"y":11.9},{"p":"e","s":"400K","x":53.5,"y":11.8},{"p":"e","s":"400K","x":54.9,"y":11.3},{"p":"e","s":"400K","x":56.3,"y":10.8},{"p":"e","s":"400K","x":57.6,"y":10.6},{"p":"e","s":"400K","x":59,"y":10.3},{"p":"e","s":"400K","x":59.9,"y":9.9},{"p":"e","s":"400K","x":60.8,"y":9.5},{"p":"e","s":"400K","x":62.2,"y":9.8},{"p":"e","s":"400K","x":63.6,"y":9.9},{"p":"e","s":"400K","x":64.5,"y":9.7},{"p":"e","s":"400K","x":65.4,"y":9.5},{"p":"e","s":"400K","x":66.8,"y":10},{"p":"e","s":"400K","x":68.2,"y":10.4},{"p":"e","s":"400K","x":69.6,"y":10.4},{"p":"e","s":"400K","x":71,"y":10.3},{"p":"e","s":"400K","x":72.3,"y":10},{"p":"e","s":"400K","x":73.7,"y":9.7},{"p":"e","s":"400K","x":77,"y":9.7},
{"p":"e","s":"300K","x":0,"y":0},{"p":"e","s":"300K","x":1,"y":1.6},{"p":"e","s":"300K","x":2,"y":3.4},{"p":"e","s":"300K","x":2.9,"y":6},{"p":"e","s":"300K","x":3.9,"y":9},{"p":"e","s":"300K","x":4.8,"y":11.6},{"p":"e","s":"300K","x":5.7,"y":14},{"p":"e","s":"300K","x":6.6,"y":16.4},{"p":"e","s":"300K","x":7.5,"y":18.6},{"p":"e","s":"300K","x":8.5,"y":20.3},{"p":"e","s":"300K","x":9.4,"y":21.4},{"p":"e","s":"300K","x":10.3,"y":21},{"p":"e","s":"300K","x":11.2,"y":21.4},{"p":"e","s":"300K","x":12.1,"y":21.7},{"p":"e","s":"300K","x":13,"y":21.2},{"p":"e","s":"300K","x":14,"y":21.4},{"p":"e","s":"300K","x":14.9,"y":21.2},{"p":"e","s":"300K","x":15.8,"y":21},{"p":"e","s":"300K","x":16.3,"y":20.1},{"p":"e","s":"300K","x":16.7,"y":18.6},{"p":"e","s":"300K","x":17.4,"y":19.6},{"p":"e","s":"300K","x":18.1,"y":20.2},{"p":"e","s":"300K","x":18.8,"y":19.1},{"p":"e","s":"300K","x":19.5,"y":17.9},{"p":"e","s":"300K","x":20.2,"y":17.6},{"p":"e","s":"300K","x":20.9,"y":17.1},{"p":"e","s":"300K","x":21.6,"y":16.6},{"p":"e","s":"300K","x":22.2,"y":16.3},{"p":"e","s":"300K","x":23.2,"y":16.5},{"p":"e","s":"300K","x":24.1,"y":16.3},{"p":"e","s":"300K","x":25,"y":16},{"p":"e","s":"300K","x":25.9,"y":15.7},{"p":"e","s":"300K","x":26.8,"y":15.2},{"p":"e","s":"300K","x":27.8,"y":14.1},{"p":"e","s":"300K","x":28.7,"y":14.6},{"p":"e","s":"300K","x":29.6,"y":15},{"p":"e","s":"300K","x":31,"y":14.5},{"p":"e","s":"300K","x":32.4,"y":14},{"p":"e","s":"300K","x":33.7,"y":14.2},{"p":"e","s":"300K","x":35.1,"y":14.1},{"p":"e","s":"300K","x":36.5,"y":13.7},{"p":"e","s":"300K","x":37.9,"y":13.3},{"p":"e","s":"300K","x":39.2,"y":12.9},{"p":"e","s":"300K","x":40.6,"y":12.4},{"p":"e","s":"300K","x":41.5,"y":12.6},{"p":"e","s":"300K","x":42.5,"y":12.9},{"p":"e","s":"300K","x":43.8,"y":12.4},{"p":"e","s":"300K","x":45.2,"y":12},{"p":"e","s":"300K","x":46.6,"y":11.8},{"p":"e","s":"300K","x":48,"y":11.5},{"p":"e","s":"300K","x":49.3,"y":11.3},{"p":"e","s":"300K","x":50.7,"y":11.1},{"p":"e","s":"300K","x":52.1,"y":11.1},{"p":"e","s":"300K","x":53.5,"y":11},{"p":"e","s":"300K","x":54.9,"y":10.7},{"p":"e","s":"300K","x":56.3,"y":10.3},{"p":"e","s":"300K","x":57.6,"y":9.7},{"p":"e","s":"300K","x":59,"y":9},{"p":"e","s":"300K","x":60.4,"y":8.9},{"p":"e","s":"300K","x":61.8,"y":8.8},{"p":"e","s":"300K","x":62.7,"y":8.6},{"p":"e","s":"300K","x":63.6,"y":8.5},{"p":"e","s":"300K","x":64.5,"y":8.8},{"p":"e","s":"300K","x":65.4,"y":9},{"p":"e","s":"300K","x":66.8,"y":8.6},{"p":"e","s":"300K","x":68.2,"y":8},{"p":"e","s":"300K","x":69.6,"y":7.6},{"p":"e","s":"300K","x":71,"y":7.2},{"p":"e","s":"300K","x":71.9,"y":7.2},{"p":"e","s":"300K","x":72.8,"y":7.4},{"p":"e","s":"300K","x":73.7,"y":7.8},{"p":"e","s":"300K","x":74.6,"y":8.3},{"p":"e","s":"300K","x":75.6,"y":8.9},{"p":"e","s":"300K","x":77,"y":9.6},
{"p":"e","s":"300K-AH","x":0,"y":0},{"p":"e","s":"300K-AH","x":1,"y":1.5},{"p":"e","s":"300K-AH","x":2,"y":3.3},{"p":"e","s":"300K-AH","x":2.9,"y":6},{"p":"e","s":"300K-AH","x":3.9,"y":8.7},{"p":"e","s":"300K-AH","x":4.8,"y":11.3},{"p":"e","s":"300K-AH","x":5.7,"y":13.6},{"p":"e","s":"300K-AH","x":6.6,"y":15.9},{"p":"e","s":"300K-AH","x":7.5,"y":17.9},{"p":"e","s":"300K-AH","x":8.5,"y":20},{"p":"e","s":"300K-AH","x":9.4,"y":21.2},{"p":"e","s":"300K-AH","x":10.3,"y":21.1},{"p":"e","s":"300K-AH","x":11.2,"y":21.4},{"p":"e","s":"300K-AH","x":12.2,"y":21.1},{"p":"e","s":"300K-AH","x":13.1,"y":21},{"p":"e","s":"300K-AH","x":14,"y":20.9},{"p":"e","s":"300K-AH","x":14.9,"y":20.9},{"p":"e","s":"300K-AH","x":15.8,"y":20.5},{"p":"e","s":"300K-AH","x":16.7,"y":19.8},{"p":"e","s":"300K-AH","x":17.4,"y":20.3},{"p":"e","s":"300K-AH","x":18.1,"y":20.7},{"p":"e","s":"300K-AH","x":18.8,"y":20.1},{"p":"e","s":"300K-AH","x":19.5,"y":19.1},{"p":"e","s":"300K-AH","x":20.4,"y":18},{"p":"e","s":"300K-AH","x":21.3,"y":17.1},{"p":"e","s":"300K-AH","x":22.2,"y":16.7},{"p":"e","s":"300K-AH","x":23.2,"y":16.4},{"p":"e","s":"300K-AH","x":24.1,"y":16.5},{"p":"e","s":"300K-AH","x":25,"y":16.3},{"p":"e","s":"300K-AH","x":25.9,"y":16},{"p":"e","s":"300K-AH","x":26.8,"y":15.7},{"p":"e","s":"300K-AH","x":27.8,"y":15.4},{"p":"e","s":"300K-AH","x":28.7,"y":15},{"p":"e","s":"300K-AH","x":29.6,"y":14.8},{"p":"e","s":"300K-AH","x":30.5,"y":14.5},{"p":"e","s":"300K-AH","x":31.4,"y":14.1},{"p":"e","s":"300K-AH","x":32.4,"y":13.6},{"p":"e","s":"300K-AH","x":33.3,"y":13.9},{"p":"e","s":"300K-AH","x":34.2,"y":14.1},{"p":"e","s":"300K-AH","x":35.5,"y":13.7},{"p":"e","s":"300K-AH","x":36.9,"y":13.3},{"p":"e","s":"300K-AH","x":38.3,"y":13},{"p":"e","s":"300K-AH","x":39.7,"y":12.7},{"p":"e","s":"300K-AH","x":41.1,"y":12.6},{"p":"e","s":"300K-AH","x":42.5,"y":12.4},{"p":"e","s":"300K-AH","x":43.8,"y":12.2},{"p":"e","s":"300K-AH","x":45.2,"y":12},{"p":"e","s":"300K-AH","x":46.6,"y":11.9},{"p":"e","s":"300K-AH","x":48,"y":11.7},{"p":"e","s":"300K-AH","x":49.3,"y":11.3},{"p":"e","s":"300K-AH","x":50.7,"y":11},{"p":"e","s":"300K-AH","x":52.1,"y":10.8},{"p":"e","s":"300K-AH","x":53.5,"y":10.6},{"p":"e","s":"300K-AH","x":54.9,"y":10.5},{"p":"e","s":"300K-AH","x":56.3,"y":10.3},{"p":"e","s":"300K-AH","x":57.6,"y":9.9},{"p":"e","s":"300K-AH","x":59,"y":9.4},{"p":"e","s":"300K-AH","x":60.4,"y":9.1},{"p":"e","s":"300K-AH","x":61.8,"y":8.8},{"p":"e","s":"300K-AH","x":63.2,"y":8.65},{"p":"e","s":"300K-AH","x":64.5,"y":8.5},{"p":"e","s":"300K-AH","x":66.4,"y":8.4},{"p":"e","s":"300K-AH","x":68.2,"y":8.3},{"p":"e","s":"300K-AH","x":70,"y":8.3},{"p":"e","s":"300K-AH","x":71.9,"y":8.3},{"p":"e","s":"300K-AH","x":73.3,"y":8.3},{"p":"e","s":"300K-AH","x":74.6,"y":8.4},{"p":"e","s":"300K-AH","x":77,"y":8.7},
{"p":"f","s":"400K","x":0,"y":0},{"p":"f","s":"400K","x":0.9,"y":1.8},{"p":"f","s":"400K","x":1.8,"y":3.7},{"p":"f","s":"400K","x":2.8,"y":6.6},{"p":"f","s":"400K","x":3.7,"y":9.4},{"p":"f","s":"400K","x":4.6,"y":11.5},{"p":"f","s":"400K","x":5.5,"y":13.3},{"p":"f","s":"400K","x":6.4,"y":14.8},{"p":"f","s":"400K","x":7.3,"y":16.1},{"p":"f","s":"400K","x":8.3,"y":16.9},{"p":"f","s":"400K","x":9.2,"y":17.5},{"p":"f","s":"400K","x":10.1,"y":17.2},{"p":"f","s":"400K","x":11,"y":17.9},{"p":"f","s":"400K","x":11.9,"y":17.5},{"p":"f","s":"400K","x":12.6,"y":18},{"p":"f","s":"400K","x":13.3,"y":18.6},{"p":"f","s":"400K","x":14,"y":18},{"p":"f","s":"400K","x":14.7,"y":17.5},{"p":"f","s":"400K","x":15.6,"y":17.2},{"p":"f","s":"400K","x":16.5,"y":16.8},{"p":"f","s":"400K","x":17.4,"y":16.6},{"p":"f","s":"400K","x":18.3,"y":16.4},{"p":"f","s":"400K","x":19.3,"y":16.3},{"p":"f","s":"400K","x":20.2,"y":16.1},{"p":"f","s":"400K","x":21.1,"y":15.9},{"p":"f","s":"400K","x":22,"y":16},{"p":"f","s":"400K","x":22.9,"y":15.7},{"p":"f","s":"400K","x":23.8,"y":15.8},{"p":"f","s":"400K","x":24.8,"y":15.4},{"p":"f","s":"400K","x":25.7,"y":15},{"p":"f","s":"400K","x":26.6,"y":15.1},{"p":"f","s":"400K","x":27.5,"y":14.8},{"p":"f","s":"400K","x":28.4,"y":14.7},{"p":"f","s":"400K","x":29.4,"y":14.5},{"p":"f","s":"400K","x":30.3,"y":14.3},{"p":"f","s":"400K","x":31.2,"y":14.6},{"p":"f","s":"400K","x":32.1,"y":14.7},{"p":"f","s":"400K","x":33,"y":14.2},{"p":"f","s":"400K","x":33.9,"y":13.8},{"p":"f","s":"400K","x":35.3,"y":13.9},{"p":"f","s":"400K","x":36.7,"y":13.6},{"p":"f","s":"400K","x":38.1,"y":13.3},{"p":"f","s":"400K","x":39.4,"y":12.9},{"p":"f","s":"400K","x":40.8,"y":13},{"p":"f","s":"400K","x":42.2,"y":12.9},{"p":"f","s":"400K","x":43.6,"y":12.8},{"p":"f","s":"400K","x":45,"y":12.6},{"p":"f","s":"400K","x":46.1,"y":12.9},{"p":"f","s":"400K","x":47.2,"y":13.1},{"p":"f","s":"400K","x":48.4,"y":12.6},{"p":"f","s":"400K","x":49.5,"y":12.2},{"p":"f","s":"400K","x":50.9,"y":12},{"p":"f","s":"400K","x":52.3,"y":11.8},{"p":"f","s":"400K","x":53.6,"y":11.8},{"p":"f","s":"400K","x":55,"y":11.7},{"p":"f","s":"400K","x":56.4,"y":11.5},{"p":"f","s":"400K","x":57.8,"y":11.3},{"p":"f","s":"400K","x":59.2,"y":11.3},{"p":"f","s":"400K","x":60.6,"y":11.3},{"p":"f","s":"400K","x":62,"y":11.2},{"p":"f","s":"400K","x":63.3,"y":11.1},{"p":"f","s":"400K","x":64.7,"y":11},{"p":"f","s":"400K","x":66.1,"y":10.8},{"p":"f","s":"400K","x":67.5,"y":10.6},{"p":"f","s":"400K","x":68.8,"y":10.4},{"p":"f","s":"400K","x":70.2,"y":10.2},{"p":"f","s":"400K","x":71.6,"y":9.9},{"p":"f","s":"400K","x":73,"y":9.7},{"p":"f","s":"400K","x":74.3,"y":9.5},{"p":"f","s":"400K","x":75.7,"y":9.3},{"p":"f","s":"400K","x":77,"y":9.2},
{"p":"f","s":"300K","x":0,"y":0},{"p":"f","s":"300K","x":0.9,"y":1.5},{"p":"f","s":"300K","x":1.8,"y":3.3},{"p":"f","s":"300K","x":2.8,"y":6},{"p":"f","s":"300K","x":3.7,"y":8.8},{"p":"f","s":"300K","x":4.6,"y":11.3},{"p":"f","s":"300K","x":5.5,"y":13.6},{"p":"f","s":"300K","x":6.4,"y":15.3},{"p":"f","s":"300K","x":7.3,"y":16.8},{"p":"f","s":"300K","x":8.3,"y":17.8},{"p":"f","s":"300K","x":9.2,"y":18.6},{"p":"f","s":"300K","x":10.1,"y":19.2},{"p":"f","s":"300K","x":11,"y":19.8},{"p":"f","s":"300K","x":11.7,"y":20.3},{"p":"f","s":"300K","x":12.4,"y":20.7},{"p":"f","s":"300K","x":13.1,"y":20},{"p":"f","s":"300K","x":13.8,"y":19.3},{"p":"f","s":"300K","x":14.7,"y":18.2},{"p":"f","s":"300K","x":15.6,"y":17.1},{"p":"f","s":"300K","x":16.5,"y":16.7},{"p":"f","s":"300K","x":17.4,"y":16.4},{"p":"f","s":"300K","x":18.3,"y":16.1},{"p":"f","s":"300K","x":19.3,"y":15.9},{"p":"f","s":"300K","x":20.2,"y":15.8},{"p":"f","s":"300K","x":21.1,"y":15.7},{"p":"f","s":"300K","x":22,"y":15.6},{"p":"f","s":"300K","x":22.9,"y":15.4},{"p":"f","s":"300K","x":23.9,"y":15.2},{"p":"f","s":"300K","x":24.8,"y":14.9},{"p":"f","s":"300K","x":25.7,"y":15.2},{"p":"f","s":"300K","x":26.6,"y":15.6},{"p":"f","s":"300K","x":27.5,"y":16},{"p":"f","s":"300K","x":28.4,"y":16.3},{"p":"f","s":"300K","x":29.4,"y":16.2},{"p":"f","s":"300K","x":30.3,"y":16.1},{"p":"f","s":"300K","x":31.2,"y":15.6},{"p":"f","s":"300K","x":32.1,"y":15},{"p":"f","s":"300K","x":33,"y":14.7},{"p":"f","s":"300K","x":33.9,"y":14.5},{"p":"f","s":"300K","x":35.3,"y":14.6},{"p":"f","s":"300K","x":36.7,"y":14.7},{"p":"f","s":"300K","x":38.1,"y":14.3},{"p":"f","s":"300K","x":39.4,"y":13.8},{"p":"f","s":"300K","x":40.8,"y":13.2},{"p":"f","s":"300K","x":42.2,"y":12.7},{"p":"f","s":"300K","x":42.9,"y":12.4},{"p":"f","s":"300K","x":43.6,"y":12.2},{"p":"f","s":"300K","x":44.3,"y":12.5},{"p":"f","s":"300K","x":45,"y":12.7},{"p":"f","s":"300K","x":46.4,"y":12.4},{"p":"f","s":"300K","x":47.7,"y":12},{"p":"f","s":"300K","x":49.1,"y":11.8},{"p":"f","s":"300K","x":50.5,"y":11.7},{"p":"f","s":"300K","x":51.9,"y":11.6},{"p":"f","s":"300K","x":53.2,"y":11.5},{"p":"f","s":"300K","x":54.6,"y":11.2},{"p":"f","s":"300K","x":56,"y":10.8},{"p":"f","s":"300K","x":57.4,"y":10.8},{"p":"f","s":"300K","x":58.7,"y":10.8},{"p":"f","s":"300K","x":60.1,"y":10.7},{"p":"f","s":"300K","x":61.5,"y":10.6},{"p":"f","s":"300K","x":62.8,"y":10.5},{"p":"f","s":"300K","x":64.2,"y":10.4},{"p":"f","s":"300K","x":65.6,"y":10.2},{"p":"f","s":"300K","x":67,"y":9.9},{"p":"f","s":"300K","x":68.3,"y":10.3},{"p":"f","s":"300K","x":69.7,"y":10.8},{"p":"f","s":"300K","x":70.6,"y":10.3},{"p":"f","s":"300K","x":71.6,"y":9.7},{"p":"f","s":"300K","x":72.7,"y":8.8},{"p":"f","s":"300K","x":73.9,"y":8},{"p":"f","s":"300K","x":75.2,"y":8.1},{"p":"f","s":"300K","x":76,"y":8.4},{"p":"f","s":"300K","x":77,"y":8.8},
{"p":"f","s":"300K-AH","x":0,"y":0},{"p":"f","s":"300K-AH","x":0.9,"y":1.6},{"p":"f","s":"300K-AH","x":1.8,"y":3.4},{"p":"f","s":"300K-AH","x":2.8,"y":6.2},{"p":"f","s":"300K-AH","x":3.7,"y":9},{"p":"f","s":"300K-AH","x":4.6,"y":11.5},{"p":"f","s":"300K-AH","x":5.5,"y":13.6},{"p":"f","s":"300K-AH","x":6.4,"y":15.1},{"p":"f","s":"300K-AH","x":7.3,"y":16.4},{"p":"f","s":"300K-AH","x":8.3,"y":17.7},{"p":"f","s":"300K-AH","x":9.2,"y":18.9},{"p":"f","s":"300K-AH","x":10.1,"y":19.4},{"p":"f","s":"300K-AH","x":11,"y":20},{"p":"f","s":"300K-AH","x":11.7,"y":20.5},{"p":"f","s":"300K-AH","x":12.4,"y":20.9},{"p":"f","s":"300K-AH","x":12.9,"y":20.5},{"p":"f","s":"300K-AH","x":13.3,"y":20},{"p":"f","s":"300K-AH","x":14,"y":19},{"p":"f","s":"300K-AH","x":14.7,"y":17.9},{"p":"f","s":"300K-AH","x":15.6,"y":17.1},{"p":"f","s":"300K-AH","x":16.5,"y":16.6},{"p":"f","s":"300K-AH","x":17.4,"y":16.3},{"p":"f","s":"300K-AH","x":18.3,"y":16.1},{"p":"f","s":"300K-AH","x":19.3,"y":16},{"p":"f","s":"300K-AH","x":20.2,"y":15.9},{"p":"f","s":"300K-AH","x":21.1,"y":15.8},{"p":"f","s":"300K-AH","x":22,"y":15.7},{"p":"f","s":"300K-AH","x":22.9,"y":15.6},{"p":"f","s":"300K-AH","x":23.9,"y":15.4},{"p":"f","s":"300K-AH","x":24.8,"y":15.2},{"p":"f","s":"300K-AH","x":25.7,"y":15},{"p":"f","s":"300K-AH","x":26.6,"y":15.6},{"p":"f","s":"300K-AH","x":27.5,"y":16.1},{"p":"f","s":"300K-AH","x":28.2,"y":16.3},{"p":"f","s":"300K-AH","x":28.9,"y":16.6},{"p":"f","s":"300K-AH","x":29.6,"y":16.5},{"p":"f","s":"300K-AH","x":30.3,"y":16.3},{"p":"f","s":"300K-AH","x":31.2,"y":15.9},{"p":"f","s":"300K-AH","x":32.1,"y":15.4},{"p":"f","s":"300K-AH","x":33,"y":15},{"p":"f","s":"300K-AH","x":33.9,"y":14.7},{"p":"f","s":"300K-AH","x":35.3,"y":14.8},{"p":"f","s":"300K-AH","x":36.7,"y":14.9},{"p":"f","s":"300K-AH","x":38.1,"y":14.5},{"p":"f","s":"300K-AH","x":39.4,"y":14},{"p":"f","s":"300K-AH","x":40.8,"y":13.5},{"p":"f","s":"300K-AH","x":42.2,"y":13.1},{"p":"f","s":"300K-AH","x":43.6,"y":12.9},{"p":"f","s":"300K-AH","x":45,"y":12.7},{"p":"f","s":"300K-AH","x":46.4,"y":12.4},{"p":"f","s":"300K-AH","x":47.7,"y":12.2},{"p":"f","s":"300K-AH","x":49.1,"y":12},{"p":"f","s":"300K-AH","x":50.5,"y":11.8},{"p":"f","s":"300K-AH","x":51.9,"y":11.6},{"p":"f","s":"300K-AH","x":53.2,"y":11.5},{"p":"f","s":"300K-AH","x":54.6,"y":11.4},{"p":"f","s":"300K-AH","x":56,"y":11.3},{"p":"f","s":"300K-AH","x":57.4,"y":11.1},{"p":"f","s":"300K-AH","x":58.7,"y":11},{"p":"f","s":"300K-AH","x":60.1,"y":10.8},{"p":"f","s":"300K-AH","x":61.5,"y":10.6},{"p":"f","s":"300K-AH","x":62.8,"y":10.5},{"p":"f","s":"300K-AH","x":64.2,"y":10.4},{"p":"f","s":"300K-AH","x":65.6,"y":10.35},{"p":"f","s":"300K-AH","x":67,"y":10.3},{"p":"f","s":"300K-AH","x":68.3,"y":10},{"p":"f","s":"300K-AH","x":69.7,"y":9.7},{"p":"f","s":"300K-AH","x":71.1,"y":9.4},{"p":"f","s":"300K-AH","x":72.5,"y":9},{"p":"f","s":"300K-AH","x":73.6,"y":8.8},{"p":"f","s":"300K-AH","x":74.8,"y":8.7},{"p":"f","s":"300K-AH","x":77,"y":8.7},
{"p":"f","s":"200K","x":0,"y":0},{"p":"f","s":"200K","x":0.9,"y":1.4},{"p":"f","s":"200K","x":1.8,"y":3},{"p":"f","s":"200K","x":2.8,"y":5.8},{"p":"f","s":"200K","x":3.7,"y":8.7},{"p":"f","s":"200K","x":4.6,"y":11.6},{"p":"f","s":"200K","x":5.5,"y":14.3},{"p":"f","s":"200K","x":6.2,"y":15.8},{"p":"f","s":"200K","x":6.9,"y":17.1},{"p":"f","s":"200K","x":7.4,"y":17.5},{"p":"f","s":"200K","x":7.8,"y":18.6},{"p":"f","s":"200K","x":8.3,"y":19.8},{"p":"f","s":"200K","x":8.7,"y":19},{"p":"f","s":"200K","x":9.2,"y":20.3},{"p":"f","s":"200K","x":9.6,"y":20.6},{"p":"f","s":"200K","x":10.1,"y":21.6},{"p":"f","s":"200K","x":10.6,"y":21.6},{"p":"f","s":"200K","x":11,"y":21.9},{"p":"f","s":"200K","x":11.5,"y":22.4},{"p":"f","s":"200K","x":12,"y":23},{"p":"f","s":"200K","x":12.4,"y":23.3},{"p":"f","s":"200K","x":12.9,"y":23},{"p":"f","s":"200K","x":13.3,"y":22.8},{"p":"f","s":"200K","x":13.8,"y":22},{"p":"f","s":"200K","x":14.2,"y":21},{"p":"f","s":"200K","x":14.7,"y":19.8},{"p":"f","s":"200K","x":15.1,"y":18.6},{"p":"f","s":"200K","x":15.6,"y":17.4},{"p":"f","s":"200K","x":16.1,"y":16.4},{"p":"f","s":"200K","x":16.5,"y":15.9},{"p":"f","s":"200K","x":17,"y":15.4},{"p":"f","s":"200K","x":17.4,"y":15.8},{"p":"f","s":"200K","x":17.9,"y":15.6},{"p":"f","s":"200K","x":18.6,"y":15},{"p":"f","s":"200K","x":19.3,"y":14.7},{"p":"f","s":"200K","x":19.9,"y":15.1},{"p":"f","s":"200K","x":20.6,"y":15.4},{"p":"f","s":"200K","x":21.3,"y":15.1},{"p":"f","s":"200K","x":22,"y":15},{"p":"f","s":"200K","x":22.7,"y":15.4},{"p":"f","s":"200K","x":23.4,"y":15.7},{"p":"f","s":"200K","x":24.1,"y":15.3},{"p":"f","s":"200K","x":24.8,"y":14.7},{"p":"f","s":"200K","x":25.4,"y":15.1},{"p":"f","s":"200K","x":26.1,"y":15.6},{"p":"f","s":"200K","x":26.8,"y":15.8},{"p":"f","s":"200K","x":27.5,"y":16.1},{"p":"f","s":"200K","x":28.2,"y":17},{"p":"f","s":"200K","x":28.9,"y":18.4},{"p":"f","s":"200K","x":29.4,"y":17.9},{"p":"f","s":"200K","x":29.8,"y":17.5},{"p":"f","s":"200K","x":30.3,"y":17.6},{"p":"f","s":"200K","x":30.7,"y":17.3},{"p":"f","s":"200K","x":31.4,"y":16.6},{"p":"f","s":"200K","x":32.1,"y":16.1},{"p":"f","s":"200K","x":33,"y":15.3},{"p":"f","s":"200K","x":33.9,"y":14.5},{"p":"f","s":"200K","x":34.9,"y":14.6},{"p":"f","s":"200K","x":35.8,"y":14.7},{"p":"f","s":"200K","x":36.7,"y":14.4},{"p":"f","s":"200K","x":37.6,"y":14.1},{"p":"f","s":"200K","x":38.5,"y":13.8},{"p":"f","s":"200K","x":39.4,"y":13.4},{"p":"f","s":"200K","x":40.3,"y":13.1},{"p":"f","s":"200K","x":41.3,"y":12.7},{"p":"f","s":"200K","x":42.2,"y":12.5},{"p":"f","s":"200K","x":43.1,"y":12.4},{"p":"f","s":"200K","x":44,"y":12.6},{"p":"f","s":"200K","x":45,"y":12.9},{"p":"f","s":"200K","x":45.9,"y":12.6},{"p":"f","s":"200K","x":46.8,"y":12.2},{"p":"f","s":"200K","x":47.7,"y":11.9},{"p":"f","s":"200K","x":48.6,"y":11.7},{"p":"f","s":"200K","x":49.5,"y":11.5},{"p":"f","s":"200K","x":50.5,"y":11.3},{"p":"f","s":"200K","x":51.4,"y":11.2},{"p":"f","s":"200K","x":52.3,"y":11.1},{"p":"f","s":"200K","x":53.2,"y":11.3},{"p":"f","s":"200K","x":54.1,"y":11.5},{"p":"f","s":"200K","x":54.8,"y":11.4},{"p":"f","s":"200K","x":55.5,"y":11.1},{"p":"f","s":"200K","x":56.4,"y":10.5},{"p":"f","s":"200K","x":57.3,"y":9.9},{"p":"f","s":"200K","x":58.5,"y":10.1},{"p":"f","s":"200K","x":59.6,"y":10.3},{"p":"f","s":"200K","x":61,"y":10.3},{"p":"f","s":"200K","x":62.4,"y":10.3},{"p":"f","s":"200K","x":63.7,"y":10.2},{"p":"f","s":"200K","x":65.1,"y":10.1},{"p":"f","s":"200K","x":66.5,"y":9.9},{"p":"f","s":"200K","x":67.9,"y":9.7},{"p":"f","s":"200K","x":69.2,"y":9},{"p":"f","s":"200K","x":70.6,"y":8.3},{"p":"f","s":"200K","x":72,"y":8.5},{"p":"f","s":"200K","x":73.4,"y":8.7},{"p":"f","s":"200K","x":75,"y":8.6},{"p":"f","s":"200K","x":77,"y":8.5}
],
"inset": [
{"p":"a","s":"Hex","x":0.3,"y":0},{"p":"a","s":"Hex","x":0.6,"y":0.0002},{"p":"a","s":"Hex","x":1.05,"y":0.001},{"p":"a","s":"Hex","x":1.4,"y":0.0019},{"p":"a","s":"Hex","x":1.7,"y":0.0029},{"p":"a","s":"Hex","x":2.04,"y":0.0046},{"p":"a","s":"Hex","x":2.48,"y":0.00625},{"p":"a","s":"Hex","x":3,"y":0.0082},{"p":"a","s":"Hex","x":3.53,"y":0.0099},{"p":"a","s":"Hex","x":4.05,"y":0.0111},{"p":"a","s":"Hex","x":4.4,"y":0.0116},{"p":"a","s":"Hex","x":4.75,"y":0.0119},
{"p":"a","s":"TEG","x":0.3,"y":0},{"p":"a","s":"TEG","x":0.6,"y":0.0002},{"p":"a","s":"TEG","x":1.05,"y":0.0009},{"p":"a","s":"TEG","x":1.4,"y":0.0016},{"p":"a","s":"TEG","x":1.7,"y":0.0024},{"p":"a","s":"TEG","x":2.04,"y":0.0038},{"p":"a","s":"TEG","x":2.48,"y":0.0055},{"p":"a","s":"TEG","x":3,"y":0.0075},{"p":"a","s":"TEG","x":3.53,"y":0.0091},{"p":"a","s":"TEG","x":4.05,"y":0.0106},{"p":"a","s":"TEG","x":4.4,"y":0.0111},{"p":"a","s":"TEG","x":4.75,"y":0.0115},
{"p":"b","s":"Hex","x":0.16,"y":0},{"p":"b","s":"Hex","x":0.66,"y":0.0012},{"p":"b","s":"Hex","x":1.31,"y":0.0036},{"p":"b","s":"Hex","x":1.97,"y":0.006},{"p":"b","s":"Hex","x":2.62,"y":0.0075},{"p":"b","s":"Hex","x":3.28,"y":0.0091},{"p":"b","s":"Hex","x":3.94,"y":0.011},{"p":"b","s":"Hex","x":4.4,"y":0.0122},{"p":"b","s":"Hex","x":4.75,"y":0.0133},
{"p":"b","s":"TEG","x":0.16,"y":0},{"p":"b","s":"TEG","x":0.66,"y":0.0005},{"p":"b","s":"TEG","x":1.31,"y":0.0019},{"p":"b","s":"TEG","x":1.97,"y":0.0038},{"p":"b","s":"TEG","x":2.62,"y":0.0067},{"p":"b","s":"TEG","x":3.28,"y":0.0087},{"p":"b","s":"TEG","x":3.94,"y":0.0099},{"p":"b","s":"TEG","x":4.4,"y":0.0109},{"p":"b","s":"TEG","x":4.75,"y":0.0121},
{"p":"c","s":"400K","x":0.2,"y":0},{"p":"c","s":"400K","x":1.04,"y":0.0017},{"p":"c","s":"400K","x":1.69,"y":0.0034},{"p":"c","s":"400K","x":2.03,"y":0.0043},{"p":"c","s":"400K","x":2.47,"y":0.006},{"p":"c","s":"400K","x":2.99,"y":0.0072},{"p":"c","s":"400K","x":3.51,"y":0.0085},{"p":"c","s":"400K","x":4.03,"y":0.0097},{"p":"c","s":"400K","x":4.75,"y":0.0111},
{"p":"c","s":"300K","x":0.2,"y":0},{"p":"c","s":"300K","x":1.04,"y":0.0013},{"p":"c","s":"300K","x":1.69,"y":0.0029},{"p":"c","s":"300K","x":2.03,"y":0.004},{"p":"c","s":"300K","x":2.47,"y":0.0058},{"p":"c","s":"300K","x":2.99,"y":0.0075},{"p":"c","s":"300K","x":3.51,"y":0.0092},{"p":"c","s":"300K","x":4.03,"y":0.0106},{"p":"c","s":"300K","x":4.75,"y":0.0118},
{"p":"c","s":"200K","x":0.2,"y":0},{"p":"c","s":"200K","x":1.04,"y":0.0007},{"p":"c","s":"200K","x":1.69,"y":0.0022},{"p":"c","s":"200K","x":2.03,"y":0.0036},{"p":"c","s":"200K","x":2.47,"y":0.0056},{"p":"c","s":"200K","x":2.99,"y":0.0075},{"p":"c","s":"200K","x":3.51,"y":0.0094},{"p":"c","s":"200K","x":4.03,"y":0.0114},{"p":"c","s":"200K","x":4.3,"y":0.0121},{"p":"c","s":"200K","x":4.75,"y":0.0118},
{"p":"d","s":"400K","x":0.18,"y":0},{"p":"d","s":"400K","x":0.8,"y":0.001},{"p":"d","s":"400K","x":1.32,"y":0.0029},{"p":"d","s":"400K","x":2,"y":0.0051},{"p":"d","s":"400K","x":2.62,"y":0.0068},{"p":"d","s":"400K","x":3.27,"y":0.0082},{"p":"d","s":"400K","x":3.92,"y":0.0094},{"p":"d","s":"400K","x":4.75,"y":0.0107},
{"p":"d","s":"300K","x":0.18,"y":0},{"p":"d","s":"300K","x":0.8,"y":0.0007},{"p":"d","s":"300K","x":1.32,"y":0.0022},{"p":"d","s":"300K","x":2,"y":0.0046},{"p":"d","s":"300K","x":2.62,"y":0.0068},{"p":"d","s":"300K","x":3.27,"y":0.0087},{"p":"d","s":"300K","x":3.92,"y":0.0101},{"p":"d","s":"300K","x":4.75,"y":0.0114},
{"p":"d","s":"200K","x":0.18,"y":0},{"p":"d","s":"200K","x":0.8,"y":0.0003},{"p":"d","s":"200K","x":1.32,"y":0.0014},{"p":"d","s":"200K","x":2,"y":0.0039},{"p":"d","s":"200K","x":2.62,"y":0.0065},{"p":"d","s":"200K","x":3.27,"y":0.0087},{"p":"d","s":"200K","x":3.92,"y":0.0104},{"p":"d","s":"200K","x":4.44,"y":0.0116},{"p":"d","s":"200K","x":4.75,"y":0.0114},
{"p":"e","s":"300K","x":0.22,"y":0},{"p":"e","s":"300K","x":1,"y":0.002},{"p":"e","s":"300K","x":1.65,"y":0.0044},{"p":"e","s":"300K","x":2.02,"y":0.0061},{"p":"e","s":"300K","x":2.44,"y":0.0078},{"p":"e","s":"300K","x":2.96,"y":0.0095},{"p":"e","s":"300K","x":3.48,"y":0.0114},{"p":"e","s":"300K","x":4,"y":0.0129},{"p":"e","s":"300K","x":4.75,"y":0.0147},
{"p":"e","s":"400K","x":0.22,"y":0},{"p":"e","s":"400K","x":1,"y":0.0028},{"p":"e","s":"400K","x":1.65,"y":0.0049},{"p":"e","s":"400K","x":2.02,"y":0.0059},{"p":"e","s":"400K","x":2.44,"y":0.0073},{"p":"e","s":"400K","x":2.96,"y":0.009},{"p":"e","s":"400K","x":3.48,"y":0.0107},{"p":"e","s":"400K","x":4,"y":0.0122},{"p":"e","s":"400K","x":4.75,"y":0.0137},
{"p":"e","s":"300K-AH","x":0.22,"y":0},{"p":"e","s":"300K-AH","x":1,"y":0.0018},{"p":"e","s":"300K-AH","x":1.65,"y":0.0042},{"p":"e","s":"300K-AH","x":2.02,"y":0.0057},{"p":"e","s":"300K-AH","x":2.44,"y":0.0071},{"p":"e","s":"300K-AH","x":2.96,"y":0.0088},{"p":"e","s":"300K-AH","x":3.48,"y":0.0105},{"p":"e","s":"300K-AH","x":4,"y":0.0119},{"p":"e","s":"300K-AH","x":4.75,"y":0.0136},
{"p":"f","s":"400K","x":0.17,"y":0},{"p":"f","s":"400K","x":0.7,"y":0.0023},{"p":"f","s":"400K","x":1.22,"y":0.0042},{"p":"f","s":"400K","x":1.88,"y":0.0066},{"p":"f","s":"400K","x":2.53,"y":0.0088},{"p":"f","s":"400K","x":3.19,"y":0.0102},{"p":"f","s":"400K","x":3.84,"y":0.0114},{"p":"f","s":"400K","x":4.75,"y":0.0128},
{"p":"f","s":"300K","x":0.17,"y":0},{"p":"f","s":"300K","x":0.7,"y":0.0004},{"p":"f","s":"300K","x":1.22,"y":0.0013},{"p":"f","s":"300K","x":1.88,"y":0.0033},{"p":"f","s":"300K","x":2.53,"y":0.0061},{"p":"f","s":"300K","x":3.19,"y":0.0088},{"p":"f","s":"300K","x":3.84,"y":0.0105},{"p":"f","s":"300K","x":4.75,"y":0.0123},
{"p":"f","s":"300K-AH","x":0.17,"y":0},{"p":"f","s":"300K-AH","x":0.7,"y":0.0004},{"p":"f","s":"300K-AH","x":1.22,"y":0.0014},{"p":"f","s":"300K-AH","x":1.88,"y":0.0032},{"p":"f","s":"300K-AH","x":2.53,"y":0.0064},{"p":"f","s":"300K-AH","x":3.19,"y":0.009},{"p":"f","s":"300K-AH","x":3.84,"y":0.0105},{"p":"f","s":"300K-AH","x":4.75,"y":0.0119},
{"p":"f","s":"200K","x":0.17,"y":0},{"p":"f","s":"200K","x":0.7,"y":0.0003},{"p":"f","s":"200K","x":1.22,"y":0.0013},{"p":"f","s":"200K","x":1.88,"y":0.0035},{"p":"f","s":"200K","x":2.53,"y":0.0066},{"p":"f","s":"200K","x":2.92,"y":0.0086},{"p":"f","s":"200K","x":3.19,"y":0.0093},{"p":"f","s":"200K","x":3.84,"y":0.0107},{"p":"f","s":"200K","x":4.75,"y":0.0128}
]
},
"spacing": 47.5,
"resolve": {"scale": {"color": "independent"}},
"vconcat": [
{"hconcat": [
 {"width": 280, "height": 260,
  "layer": [
   {"layer": [
     {"data": {"name": "main"}, "transform": [{"filter": "datum.p === 'a'"}],
      "mark": {"type": "line", "strokeWidth": 2.2},
      "encoding": {
       "x": {"field": "x", "type": "quantitative", "scale": {"domain": [0, 77], "nice": false, "zero": false}, "axis": {"orient": "bottom", "values": [0,10,20,30,40,50,60,70], "labelExpr": "datum.value % 20 === 0 ? datum.label : ''", "tickSize": {"condition": {"test": "datum.value % 20 === 0", "value": 8}, "value": 4}, "title": "Energy (meV)", "titlePadding": 8}},
       "y": {"field": "y", "type": "quantitative", "scale": {"domain": [0, 27.5], "nice": false}, "axis": {"orient": "left", "values": [0,2.5,5,7.5,10,12.5,15,17.5,20,22.5,25], "labelExpr": "datum.value % 5 === 0 ? datum.label : ''", "tickSize": {"condition": {"test": "datum.value % 5 === 0", "value": 8}, "value": 4}, "title": "S(E) (meV⁻¹)", "titlePadding": 14}},
       "color": {"field": "s", "type": "nominal", "scale": {"domain": ["Hex","TEG"], "range": ["#000000","#2ee02e"]}, "legend": null}}},
     {"data": {"values": [{"x": 2.4, "y": 24, "t": "a)"}]}, "mark": {"type": "text", "fontSize": 28, "align": "left", "baseline": "middle"},
      "encoding": {"x": {"field": "x", "type": "quantitative"}, "y": {"field": "y", "type": "quantitative"}, "text": {"field": "t"}}},
     {"data": {"values": [{"x": 36, "y": 3.6, "t": "FSs at 300K"}]}, "mark": {"type": "text", "fontSize": 26, "align": "center", "baseline": "middle"},
      "encoding": {"x": {"field": "x", "type": "quantitative"}, "y": {"field": "y", "type": "quantitative"}, "text": {"field": "t"}}}
   ]},
   {"data": {"name": "inset"}, "transform": [{"filter": "datum.p === 'a'"}],
    "mark": {"type": "line", "strokeWidth": 1.6},
    "encoding": {
     "x": {"field": "x", "type": "quantitative", "scale": {"domain": [0, 4.75], "range": [158, 280], "nice": false, "zero": false}, "axis": {"orient": "bottom", "offset": -157.3, "values": [0,1,2,3,4], "labelExpr": "datum.value % 2 === 0 ? datum.label : ''", "tickSize": {"condition": {"test": "datum.value % 2 === 0", "value": 5}, "value": 3}, "labelFontSize": 15, "title": "E (meV)", "titleFontSize": 16, "titleFontWeight": "normal", "titlePadding": 1, "domainColor": "#444", "tickColor": "#444", "labelPadding": 1}},
     "y": {"field": "y", "type": "quantitative", "scale": {"domain": [0, 0.0148], "range": [102.7, 0], "nice": false}, "axis": {"orient": "left", "offset": -158, "values": [0, 0.005, 0.01], "labelExpr": "datum.value === 0.005 ? '' : format(datum.value, '.2f')", "tickSize": {"condition": {"test": "datum.value !== 0.005", "value": 5}, "value": 3}, "labelFontSize": 15, "title": ["S(E)", "(meV⁻¹)"], "titleFontSize": 16, "titleFontWeight": "normal", "titlePadding": 4, "domainColor": "#444", "tickColor": "#444", "labelPadding": 2}},
     "color": {"field": "s", "type": "nominal", "scale": {"domain": ["Hex","TEG"], "range": ["#000000","#2ee02e"]}, "legend": null}}}
  ],
  "resolve": {"scale": {"x": "independent", "y": "independent"}, "axis": {"x": "independent", "y": "independent"}}},
 {"width": 280, "height": 260,
  "layer": [
   {"layer": [
     {"data": {"name": "main"}, "transform": [{"filter": "datum.p === 'b'"}],
      "mark": {"type": "line", "strokeWidth": 2.2},
      "encoding": {
       "x": {"field": "x", "type": "quantitative", "scale": {"domain": [0, 77], "nice": false, "zero": false}, "axis": {"orient": "bottom", "values": [0,10,20,30,40,50,60,70], "labelExpr": "datum.value % 20 === 0 ? datum.label : ''", "tickSize": {"condition": {"test": "datum.value % 20 === 0", "value": 8}, "value": 4}, "title": "Energy (meV)", "titlePadding": 8}},
       "y": {"field": "y", "type": "quantitative", "scale": {"domain": [0, 27.5], "nice": false}, "axis": {"orient": "left", "values": [0,2.5,5,7.5,10,12.5,15,17.5,20,22.5,25], "labels": false, "tickSize": {"condition": {"test": "datum.value % 5 === 0", "value": 8}, "value": 4}, "title": null}},
       "color": {"field": "s", "type": "nominal", "scale": {"domain": ["Hex","TEG"], "range": ["#000000","#2ee02e"]}, "legend": {"orient": "none", "legendX": 311, "legendY": 118, "title": null}}}},
     {"data": {"values": [{"x": 3.4, "y": 24.5, "t": "b)"}]}, "mark": {"type": "text", "fontSize": 28, "align": "left", "baseline": "middle"},
      "encoding": {"x": {"field": "x", "type": "quantitative"}, "y": {"field": "y", "type": "quantitative"}, "text": {"field": "t"}}},
     {"data": {"values": [{"x": 39.6, "y": 4.3, "t": "PTTPs at 300K"}]}, "mark": {"type": "text", "fontSize": 26, "align": "center", "baseline": "middle"},
      "encoding": {"x": {"field": "x", "type": "quantitative"}, "y": {"field": "y", "type": "quantitative"}, "text": {"field": "t"}}}
   ]},
   {"data": {"name": "inset"}, "transform": [{"filter": "datum.p === 'b'"}],
    "mark": {"type": "line", "strokeWidth": 1.6},
    "encoding": {
     "x": {"field": "x", "type": "quantitative", "scale": {"domain": [0, 4.75], "range": [158, 280], "nice": false, "zero": false}, "axis": {"orient": "bottom", "offset": -157.3, "values": [0,1,2,3,4], "labelExpr": "datum.value % 2 === 0 ? datum.label : ''", "tickSize": {"condition": {"test": "datum.value % 2 === 0", "value": 5}, "value": 3}, "labelFontSize": 15, "title": "E (meV)", "titleFontSize": 16, "titleFontWeight": "normal", "titlePadding": 1, "domainColor": "#444", "tickColor": "#444", "labelPadding": 1}},
     "y": {"field": "y", "type": "quantitative", "scale": {"domain": [0, 0.0148], "range": [102.7, 0], "nice": false}, "axis": {"orient": "left", "offset": -158, "values": [0, 0.005, 0.01], "labelExpr": "datum.value === 0.005 ? '' : format(datum.value, '.2f')", "tickSize": {"condition": {"test": "datum.value !== 0.005", "value": 5}, "value": 3}, "labelFontSize": 15, "title": ["S(E)", "(meV⁻¹)"], "titleFontSize": 16, "titleFontWeight": "normal", "titlePadding": 4, "domainColor": "#444", "tickColor": "#444", "labelPadding": 2}},
     "color": {"field": "s", "type": "nominal", "scale": {"domain": ["Hex","TEG"], "range": ["#000000","#2ee02e"]}, "legend": {"orient": "none", "legendX": 311, "legendY": 118, "title": null}}}}
  ],
  "resolve": {"scale": {"x": "independent", "y": "independent"}, "axis": {"x": "independent", "y": "independent"}}}
 ],
 "spacing": 0, "bounds": "flush", "resolve": {"scale": {"color": "independent"}}},
{"vconcat": [
{"hconcat": [
 {"width": 280, "height": 260,
  "layer": [
   {"layer": [
     {"data": {"name": "main"}, "transform": [{"filter": "datum.p === 'c'"}],
      "mark": {"type": "line", "strokeWidth": 2.2},
      "encoding": {
       "x": {"field": "x", "type": "quantitative", "scale": {"domain": [0, 77], "nice": false, "zero": false}, "axis": {"orient": "bottom", "values": [0,10,20,30,40,50,60,70], "labelExpr": "datum.value % 20 === 0 ? datum.label : ''", "tickSize": {"condition": {"test": "datum.value % 20 === 0", "value": 8}, "value": 4}, "title": "Energy (meV)", "titlePadding": 8}},
       "y": {"field": "y", "type": "quantitative", "scale": {"domain": [0, 27.5], "nice": false}, "axis": {"orient": "left", "values": [0,2.5,5,7.5,10,12.5,15,17.5,20,22.5,25], "labelExpr": "datum.value % 5 === 0 ? datum.label : ''", "tickSize": {"condition": {"test": "datum.value % 5 === 0", "value": 8}, "value": 4}, "title": "S(E) (meV⁻¹)", "titlePadding": 14}},
       "color": {"field": "s", "type": "nominal", "scale": {"domain": ["400K","300K","200K"], "range": ["#e8231f","#33e88c","#8a2be2"]}, "legend": null}}},
     {"data": {"values": [{"x": 2.5, "y": 24.2, "t": "c)"}]}, "mark": {"type": "text", "fontSize": 28, "align": "left", "baseline": "middle"},
      "encoding": {"x": {"field": "x", "type": "quantitative"}, "y": {"field": "y", "type": "quantitative"}, "text": {"field": "t"}}},
     {"data": {"values": [{"x": 20.3, "y": 3.5, "t": "FS-Hex"}]}, "mark": {"type": "text", "fontSize": 26, "align": "center", "baseline": "middle"},
      "encoding": {"x": {"field": "x", "type": "quantitative"}, "y": {"field": "y", "type": "quantitative"}, "text": {"field": "t"}}}
   ]},
   {"data": {"name": "inset"}, "transform": [{"filter": "datum.p === 'c'"}],
    "mark": {"type": "line", "strokeWidth": 1.6},
    "encoding": {
     "x": {"field": "x", "type": "quantitative", "scale": {"domain": [0, 4.75], "range": [158, 280], "nice": false, "zero": false}, "axis": {"orient": "bottom", "offset": -157.3, "values": [0,1,2,3,4], "labelExpr": "datum.value % 2 === 0 ? datum.label : ''", "tickSize": {"condition": {"test": "datum.value % 2 === 0", "value": 5}, "value": 3}, "labelFontSize": 15, "title": "E (meV)", "titleFontSize": 16, "titleFontWeight": "normal", "titlePadding": 1, "domainColor": "#444", "tickColor": "#444", "labelPadding": 1}},
     "y": {"field": "y", "type": "quantitative", "scale": {"domain": [0, 0.0148], "range": [102.7, 0], "nice": false}, "axis": {"orient": "left", "offset": -158, "values": [0, 0.005, 0.01], "labelExpr": "datum.value === 0.005 ? '' : format(datum.value, '.2f')", "tickSize": {"condition": {"test": "datum.value !== 0.005", "value": 5}, "value": 3}, "labelFontSize": 15, "title": ["S(E)", "(meV⁻¹)"], "titleFontSize": 16, "titleFontWeight": "normal", "titlePadding": 4, "domainColor": "#444", "tickColor": "#444", "labelPadding": 2}},
     "color": {"field": "s", "type": "nominal", "scale": {"domain": ["400K","300K","200K"], "range": ["#e8231f","#33e88c","#8a2be2"]}, "legend": null}}}
  ],
  "resolve": {"scale": {"x": "independent", "y": "independent"}, "axis": {"x": "independent", "y": "independent"}}},
 {"width": 280, "height": 260,
  "layer": [
   {"layer": [
     {"data": {"name": "main"}, "transform": [{"filter": "datum.p === 'd'"}],
      "mark": {"type": "line", "strokeWidth": 2.2},
      "encoding": {
       "x": {"field": "x", "type": "quantitative", "scale": {"domain": [0, 77], "nice": false, "zero": false}, "axis": {"orient": "bottom", "values": [0,10,20,30,40,50,60,70], "labelExpr": "datum.value % 20 === 0 ? datum.label : ''", "tickSize": {"condition": {"test": "datum.value % 20 === 0", "value": 8}, "value": 4}, "title": "Energy (meV)", "titlePadding": 8}},
       "y": {"field": "y", "type": "quantitative", "scale": {"domain": [0, 27.5], "nice": false}, "axis": {"orient": "left", "values": [0,2.5,5,7.5,10,12.5,15,17.5,20,22.5,25], "labels": false, "tickSize": {"condition": {"test": "datum.value % 5 === 0", "value": 8}, "value": 4}, "title": null}},
       "color": {"field": "s", "type": "nominal", "scale": {"domain": ["400K","300K","200K"], "range": ["#e8231f","#33e88c","#8a2be2"]}, "legend": {"orient": "none", "legendX": 310, "legendY": 88, "title": null}}}},
     {"data": {"values": [{"x": 3.4, "y": 24.2, "t": "d)"}]}, "mark": {"type": "text", "fontSize": 28, "align": "left", "baseline": "middle"},
      "encoding": {"x": {"field": "x", "type": "quantitative"}, "y": {"field": "y", "type": "quantitative"}, "text": {"field": "t"}}},
     {"data": {"values": [{"x": 21.8, "y": 3.9, "t": "FS-TEG"}]}, "mark": {"type": "text", "fontSize": 26, "align": "center", "baseline": "middle"},
      "encoding": {"x": {"field": "x", "type": "quantitative"}, "y": {"field": "y", "type": "quantitative"}, "text": {"field": "t"}}}
   ]},
   {"data": {"name": "inset"}, "transform": [{"filter": "datum.p === 'd'"}],
    "mark": {"type": "line", "strokeWidth": 1.6},
    "encoding": {
     "x": {"field": "x", "type": "quantitative", "scale": {"domain": [0, 4.75], "range": [158, 280], "nice": false, "zero": false}, "axis": {"orient": "bottom", "offset": -157.3, "values": [0,1,2,3,4], "labelExpr": "datum.value % 2 === 0 ? datum.label : ''", "tickSize": {"condition": {"test": "datum.value % 2 === 0", "value": 5}, "value": 3}, "labelFontSize": 15, "title": "E (meV)", "titleFontSize": 16, "titleFontWeight": "normal", "titlePadding": 1, "domainColor": "#444", "tickColor": "#444", "labelPadding": 1}},
     "y": {"field": "y", "type": "quantitative", "scale": {"domain": [0, 0.0148], "range": [102.7, 0], "nice": false}, "axis": {"orient": "left", "offset": -158, "values": [0, 0.005, 0.01], "labelExpr": "datum.value === 0.005 ? '' : format(datum.value, '.2f')", "tickSize": {"condition": {"test": "datum.value !== 0.005", "value": 5}, "value": 3}, "labelFontSize": 15, "title": ["S(E)", "(meV⁻¹)"], "titleFontSize": 16, "titleFontWeight": "normal", "titlePadding": 4, "domainColor": "#444", "tickColor": "#444", "labelPadding": 2}},
     "color": {"field": "s", "type": "nominal", "scale": {"domain": ["400K","300K","200K"], "range": ["#e8231f","#33e88c","#8a2be2"]}, "legend": {"orient": "none", "legendX": 310, "legendY": 88, "title": null}}}}
  ],
  "resolve": {"scale": {"x": "independent", "y": "independent"}, "axis": {"x": "independent", "y": "independent"}}}
 ],
 "spacing": 0, "bounds": "flush", "resolve": {"scale": {"color": "independent"}}},
{"hconcat": [
 {"width": 280, "height": 260,
  "layer": [
   {"layer": [
     {"data": {"name": "main"}, "transform": [{"filter": "datum.p === 'e'"}],
      "mark": {"type": "line", "strokeWidth": 2.2},
      "encoding": {
       "x": {"field": "x", "type": "quantitative", "scale": {"domain": [0, 77], "nice": false, "zero": false}, "axis": {"orient": "bottom", "values": [0,10,20,30,40,50,60,70], "labelExpr": "datum.value % 20 === 0 ? datum.label : ''", "tickSize": {"condition": {"test": "datum.value % 20 === 0", "value": 8}, "value": 4}, "title": "Energy (meV)", "titlePadding": 8}},
       "y": {"field": "y", "type": "quantitative", "scale": {"domain": [0, 27.5], "nice": false}, "axis": {"orient": "left", "values": [0,2.5,5,7.5,10,12.5,15,17.5,20,22.5,25], "labelExpr": "datum.value % 5 === 0 ? datum.label : ''", "tickSize": {"condition": {"test": "datum.value % 5 === 0", "value": 8}, "value": 4}, "title": "S(E) (meV⁻¹)", "titlePadding": 14}},
       "color": {"field": "s", "type": "nominal", "scale": {"domain": ["300K","400K","300K-AH","(after heating)","200K"], "range": ["#2aa0e8","#e8231f","#33e88c","rgba(0,0,0,0)","#8a2be2"]}, "legend": null}}},
     {"data": {"values": [{"x": 2.5, "y": 24.4, "t": "e)"}]}, "mark": {"type": "text", "fontSize": 28, "align": "left", "baseline": "middle"},
      "encoding": {"x": {"field": "x", "type": "quantitative"}, "y": {"field": "y", "type": "quantitative"}, "text": {"field": "t"}}},
     {"data": {"values": [{"x": 26.3, "y": 3.5, "t": "PTTP-Hex"}]}, "mark": {"type": "text", "fontSize": 26, "align": "center", "baseline": "middle"},
      "encoding": {"x": {"field": "x", "type": "quantitative"}, "y": {"field": "y", "type": "quantitative"}, "text": {"field": "t"}}}
   ]},
   {"data": {"name": "inset"}, "transform": [{"filter": "datum.p === 'e'"}],
    "mark": {"type": "line", "strokeWidth": 1.6},
    "encoding": {
     "x": {"field": "x", "type": "quantitative", "scale": {"domain": [0, 4.75], "range": [158, 280], "nice": false, "zero": false}, "axis": {"orient": "bottom", "offset": -157.3, "values": [0,1,2,3,4], "labelExpr": "datum.value % 2 === 0 ? datum.label : ''", "tickSize": {"condition": {"test": "datum.value % 2 === 0", "value": 5}, "value": 3}, "labelFontSize": 15, "title": "E (meV)", "titleFontSize": 16, "titleFontWeight": "normal", "titlePadding": 1, "domainColor": "#444", "tickColor": "#444", "labelPadding": 1}},
     "y": {"field": "y", "type": "quantitative", "scale": {"domain": [0, 0.0148], "range": [102.7, 0], "nice": false}, "axis": {"orient": "left", "offset": -158, "values": [0, 0.005, 0.01], "labelExpr": "datum.value === 0.005 ? '' : format(datum.value, '.2f')", "tickSize": {"condition": {"test": "datum.value !== 0.005", "value": 5}, "value": 3}, "labelFontSize": 15, "title": ["S(E)", "(meV⁻¹)"], "titleFontSize": 16, "titleFontWeight": "normal", "titlePadding": 4, "domainColor": "#444", "tickColor": "#444", "labelPadding": 2}},
     "color": {"field": "s", "type": "nominal", "scale": {"domain": ["300K","400K","300K-AH","(after heating)","200K"], "range": ["#2aa0e8","#e8231f","#33e88c","rgba(0,0,0,0)","#8a2be2"]}, "legend": null}}}
  ],
  "resolve": {"scale": {"x": "independent", "y": "independent"}, "axis": {"x": "independent", "y": "independent"}}},
 {"width": 280, "height": 260,
  "layer": [
   {"layer": [
     {"data": {"name": "main"}, "transform": [{"filter": "datum.p === 'f'"}],
      "mark": {"type": "line", "strokeWidth": 2.2},
      "encoding": {
       "x": {"field": "x", "type": "quantitative", "scale": {"domain": [0, 77], "nice": false, "zero": false}, "axis": {"orient": "bottom", "values": [0,10,20,30,40,50,60,70], "labelExpr": "datum.value % 20 === 0 ? datum.label : ''", "tickSize": {"condition": {"test": "datum.value % 20 === 0", "value": 8}, "value": 4}, "title": "Energy (meV)", "titlePadding": 8}},
       "y": {"field": "y", "type": "quantitative", "scale": {"domain": [0, 27.5], "nice": false}, "axis": {"orient": "left", "values": [0,2.5,5,7.5,10,12.5,15,17.5,20,22.5,25], "labels": false, "tickSize": {"condition": {"test": "datum.value % 5 === 0", "value": 8}, "value": 4}, "title": null}},
       "color": {"field": "s", "type": "nominal", "scale": {"domain": ["300K","400K","300K-AH","(after heating)","200K"], "range": ["#2aa0e8","#e8231f","#33e88c","rgba(0,0,0,0)","#8a2be2"]}, "legend": {"orient": "none", "legendX": 294, "legendY": 76, "title": null, "labelExpr": "datum.label === '300K-AH' ? '300K' : datum.label", "encode": {"labels": {"update": {"dx": {"signal": "datum.value === '(after heating)' ? -58 : 0"}}}}}}}},
     {"data": {"values": [{"x": 3.4, "y": 24.7, "t": "f)"}]}, "mark": {"type": "text", "fontSize": 28, "align": "left", "baseline": "middle"},
      "encoding": {"x": {"field": "x", "type": "quantitative"}, "y": {"field": "y", "type": "quantitative"}, "text": {"field": "t"}}},
     {"data": {"values": [{"x": 29.9, "y": 3.9, "t": "PTTP-TEG"}]}, "mark": {"type": "text", "fontSize": 26, "align": "center", "baseline": "middle"},
      "encoding": {"x": {"field": "x", "type": "quantitative"}, "y": {"field": "y", "type": "quantitative"}, "text": {"field": "t"}}}
   ]},
   {"data": {"name": "inset"}, "transform": [{"filter": "datum.p === 'f'"}],
    "mark": {"type": "line", "strokeWidth": 1.6},
    "encoding": {
     "x": {"field": "x", "type": "quantitative", "scale": {"domain": [0, 4.75], "range": [158, 280], "nice": false, "zero": false}, "axis": {"orient": "bottom", "offset": -157.3, "values": [0,1,2,3,4], "labelExpr": "datum.value % 2 === 0 ? datum.label : ''", "tickSize": {"condition": {"test": "datum.value % 2 === 0", "value": 5}, "value": 3}, "labelFontSize": 15, "title": "E (meV)", "titleFontSize": 16, "titleFontWeight": "normal", "titlePadding": 1, "domainColor": "#444", "tickColor": "#444", "labelPadding": 1}},
     "y": {"field": "y", "type": "quantitative", "scale": {"domain": [0, 0.0148], "range": [102.7, 0], "nice": false}, "axis": {"orient": "left", "offset": -158, "values": [0, 0.005, 0.01], "labelExpr": "datum.value === 0.005 ? '' : format(datum.value, '.2f')", "tickSize": {"condition": {"test": "datum.value !== 0.005", "value": 5}, "value": 3}, "labelFontSize": 15, "title": ["S(E)", "(meV⁻¹)"], "titleFontSize": 16, "titleFontWeight": "normal", "titlePadding": 4, "domainColor": "#444", "tickColor": "#444", "labelPadding": 2}},
     "color": {"field": "s", "type": "nominal", "scale": {"domain": ["300K","400K","300K-AH","(after heating)","200K"], "range": ["#2aa0e8","#e8231f","#33e88c","rgba(0,0,0,0)","#8a2be2"]}, "legend": {"orient": "none", "legendX": 294, "legendY": 76, "title": null, "labelExpr": "datum.label === '300K-AH' ? '300K' : datum.label", "encode": {"labels": {"update": {"dx": {"signal": "datum.value === '(after heating)' ? -58 : 0"}}}}}}}}
  ],
  "resolve": {"scale": {"x": "independent", "y": "independent"}, "axis": {"x": "independent", "y": "independent"}}}
 ],
 "spacing": 0, "bounds": "flush", "resolve": {"scale": {"color": "independent"}}}
],
"spacing": 46.5, "resolve": {"scale": {"color": "independent"}}}
]
}
